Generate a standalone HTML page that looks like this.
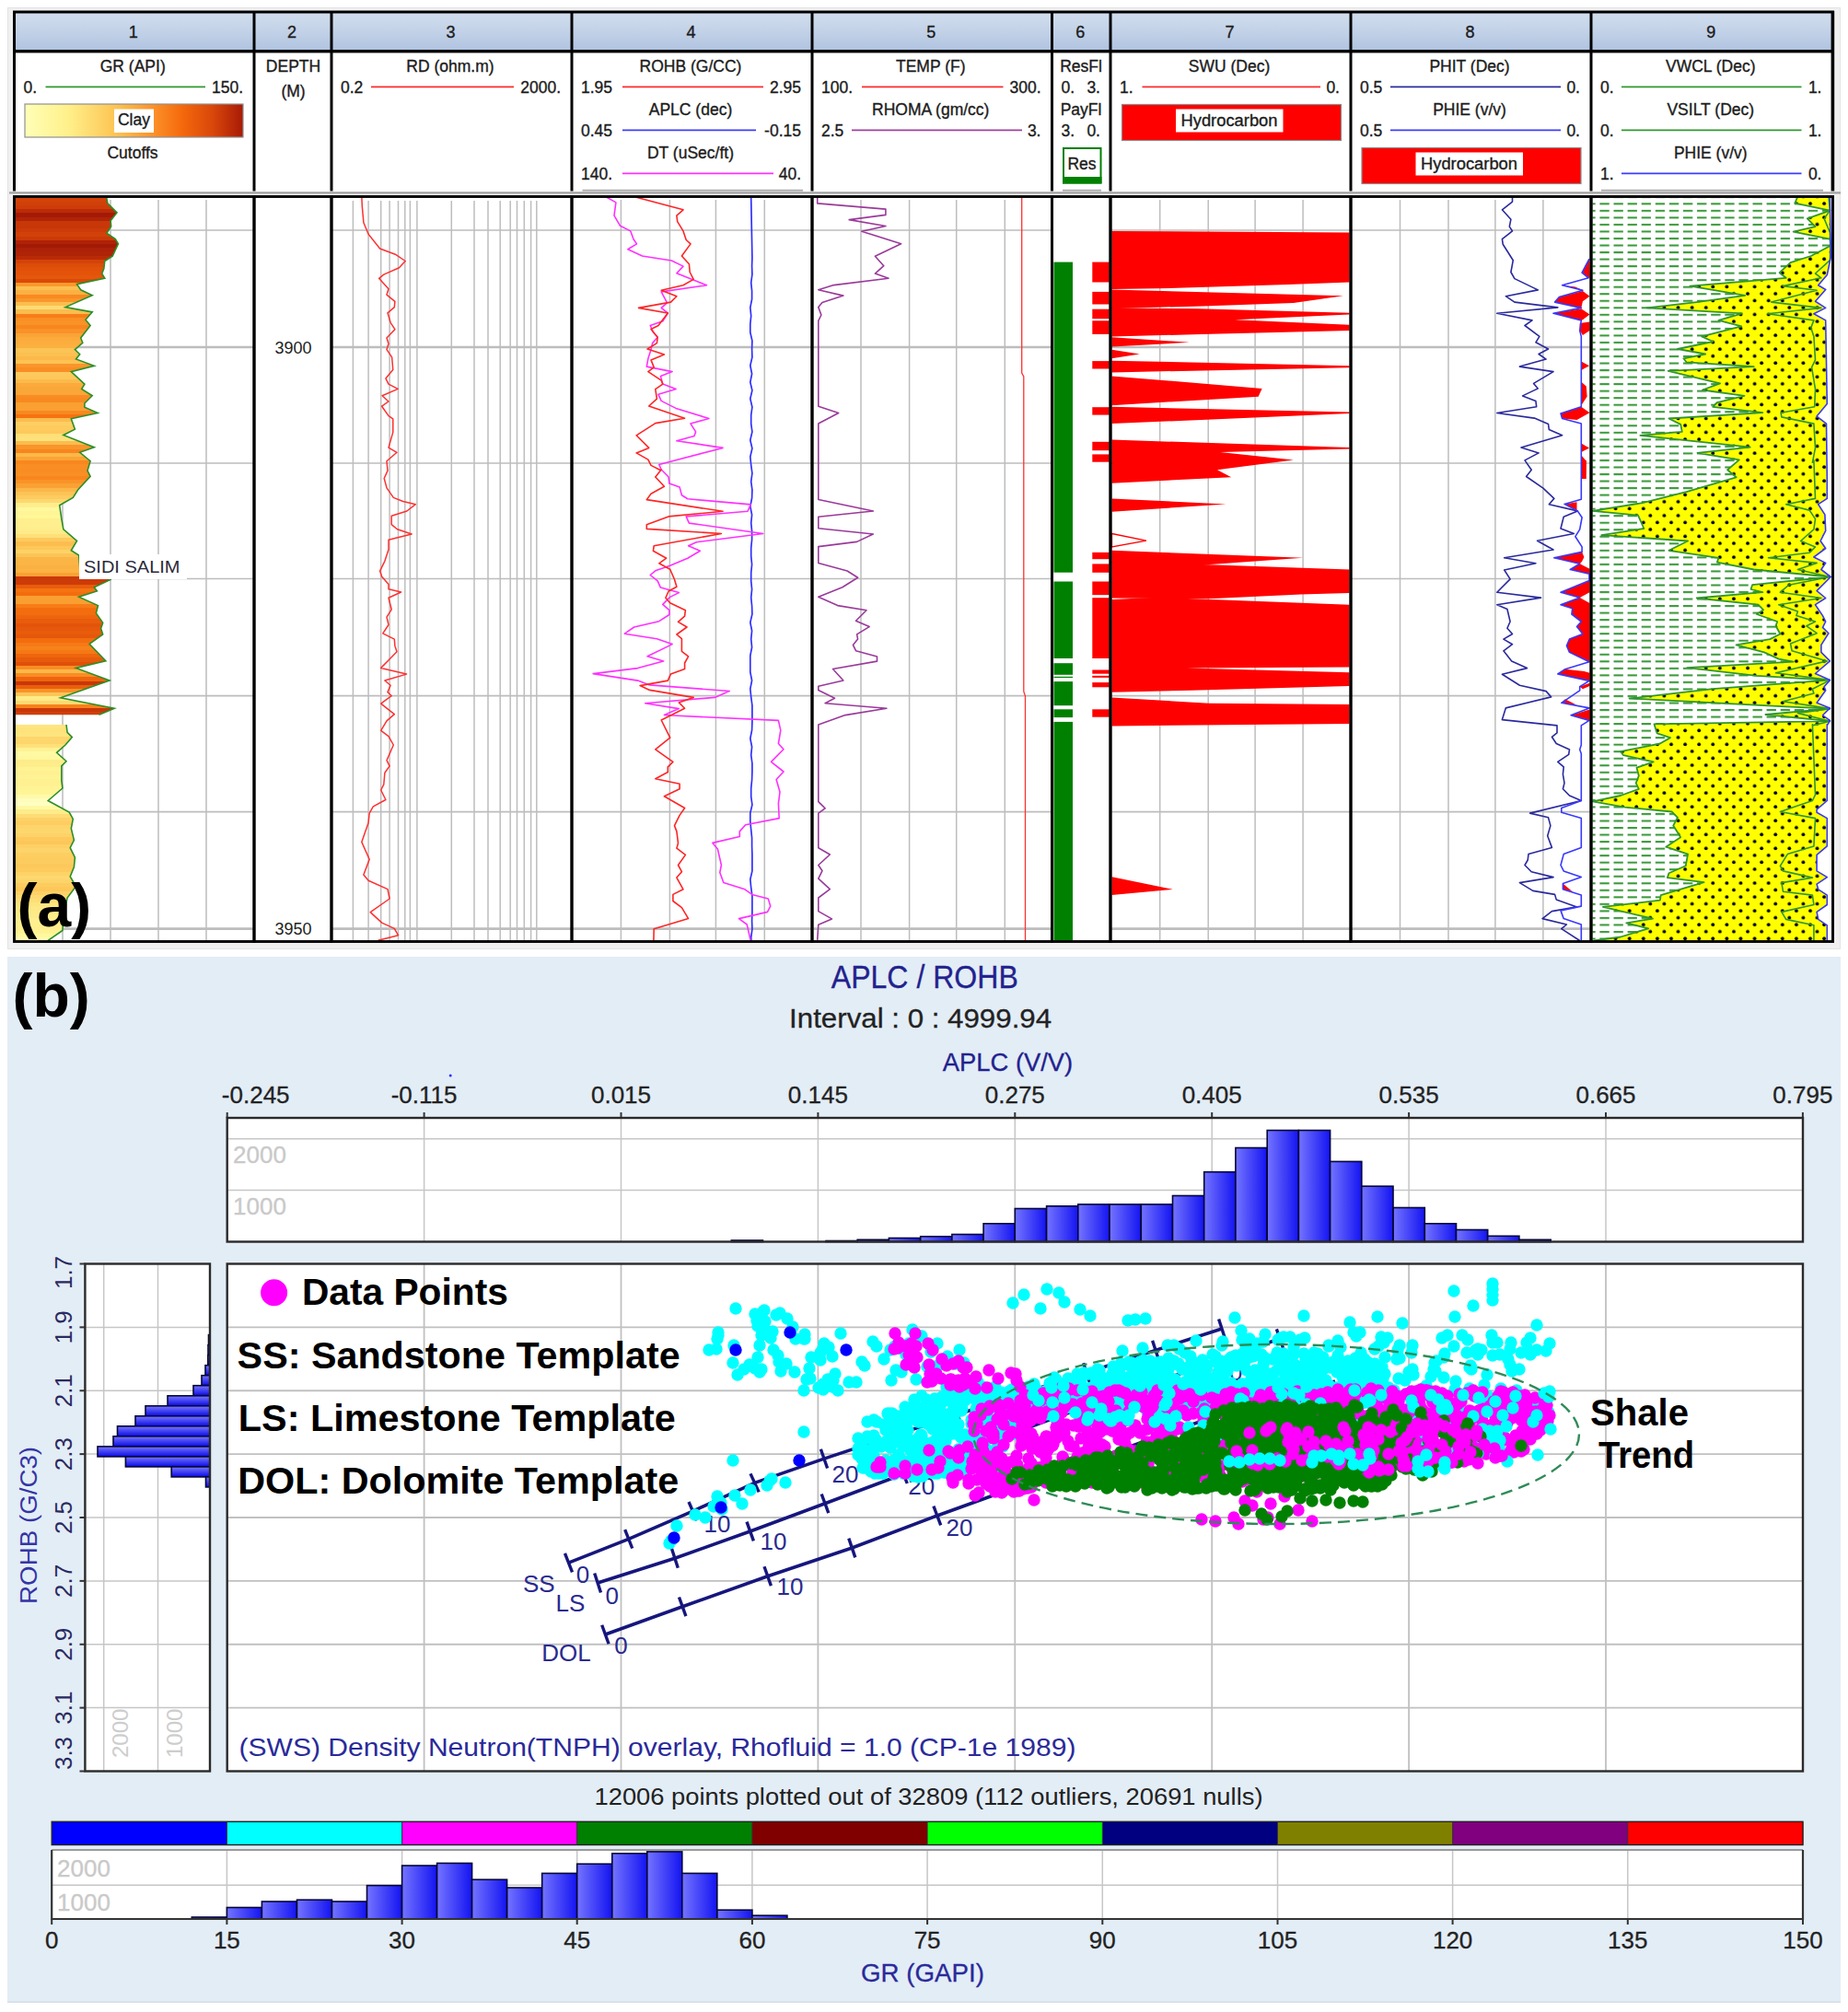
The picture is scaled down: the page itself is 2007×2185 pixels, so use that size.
<!DOCTYPE html><html><head><meta charset="utf-8"><title>Well log and crossplot</title><style>html,body{margin:0;padding:0;background:#fff}svg{display:block}</style></head><body><svg width="2007" height="2185" viewBox="0 0 2007 2185"><rect width="2007" height="2185" fill="#fff"/>
<rect x="8.5" y="8.5" width="1990" height="1022" fill="#f0f0f0" stroke="#e4e4e4"/>
<rect x="8" y="1039" width="1991" height="1135" fill="#e3edf6"/>
<rect x="8" y="2173.5" width="1991" height="1.5" fill="#d4dde6"/>
<defs><linearGradient id="hb" x1="0" y1="0" x2="0" y2="1"><stop offset="0" stop-color="#d2deee"/><stop offset="0.45" stop-color="#c4d3e8"/><stop offset="1" stop-color="#b0c3e0"/></linearGradient><linearGradient id="clay" x1="0" y1="0" x2="1" y2="0"><stop offset="0" stop-color="#ffffb8"/><stop offset="0.2" stop-color="#fff08a"/><stop offset="0.42" stop-color="#fdc352"/><stop offset="0.6" stop-color="#fb8e26"/><stop offset="0.72" stop-color="#f5690c"/><stop offset="0.86" stop-color="#d9470a"/><stop offset="1" stop-color="#a81a06"/></linearGradient><linearGradient id="bar" x1="0" y1="0" x2="1" y2="0"><stop offset="0" stop-color="#7474ff"/><stop offset="1" stop-color="#1414f2"/></linearGradient><linearGradient id="barv" x1="0" y1="0" x2="0" y2="1"><stop offset="0" stop-color="#7878ff"/><stop offset="1" stop-color="#0a0ae6"/></linearGradient><pattern id="dash" x="1737.4" y="212.8" width="15.1" height="7.53" patternUnits="userSpaceOnUse"><rect x="0" y="0" width="10.3" height="2.1" fill="#3a9a3a"/></pattern><pattern id="dots" x="1736.5" y="218" width="15.1" height="15.06" patternUnits="userSpaceOnUse"><rect width="15.1" height="15.06" fill="#ffff00"/><circle cx="3" cy="3" r="1.9" fill="#000"/><circle cx="10.55" cy="10.53" r="1.9" fill="#000"/></pattern></defs>
<rect x="14" y="12" width="1978" height="196" fill="#fff"/>
<rect x="14" y="13" width="1977" height="42" fill="url(#hb)"/>
<rect x="14" y="11.5" width="1978" height="3" fill="#000"/>
<rect x="14" y="54" width="1978" height="3.4" fill="#000"/>
<rect x="10" y="208.3" width="1989" height="2.2" fill="#a0a0a0"/>
<rect x="14" y="212" width="1978" height="812.0" fill="#fff"/>
<g font-family="'Liberation Sans',sans-serif">
<text x="144.75" y="41" font-size="18" fill="#1c1c1c" stroke="#1c1c1c" stroke-width="0.35" text-anchor="middle">1</text>
<text x="317" y="41" font-size="18" fill="#1c1c1c" stroke="#1c1c1c" stroke-width="0.35" text-anchor="middle">2</text>
<text x="489.5" y="41" font-size="18" fill="#1c1c1c" stroke="#1c1c1c" stroke-width="0.35" text-anchor="middle">3</text>
<text x="750.5" y="41" font-size="18" fill="#1c1c1c" stroke="#1c1c1c" stroke-width="0.35" text-anchor="middle">4</text>
<text x="1011.25" y="41" font-size="18" fill="#1c1c1c" stroke="#1c1c1c" stroke-width="0.35" text-anchor="middle">5</text>
<text x="1173.25" y="41" font-size="18" fill="#1c1c1c" stroke="#1c1c1c" stroke-width="0.35" text-anchor="middle">6</text>
<text x="1335.5" y="41" font-size="18" fill="#1c1c1c" stroke="#1c1c1c" stroke-width="0.35" text-anchor="middle">7</text>
<text x="1596.5" y="41" font-size="18" fill="#1c1c1c" stroke="#1c1c1c" stroke-width="0.35" text-anchor="middle">8</text>
<text x="1858.25" y="41" font-size="18" fill="#1c1c1c" stroke="#1c1c1c" stroke-width="0.35" text-anchor="middle">9</text>
<text x="144.25" y="78" font-size="17.5" fill="#1c1c1c" stroke="#1c1c1c" stroke-width="0.35" text-anchor="middle">GR (API)</text>
<text x="25.5" y="100.7" font-size="17.5" fill="#1c1c1c" stroke="#1c1c1c" stroke-width="0.35">0.</text>
<text x="264" y="100.7" font-size="17.5" fill="#1c1c1c" stroke="#1c1c1c" stroke-width="0.35" text-anchor="end">150.</text>
<line x1="49.5" y1="94.4" x2="223" y2="94.4" stroke="#2f9a2f" stroke-width="1.7"/>
<text x="489" y="78" font-size="17.5" fill="#1c1c1c" stroke="#1c1c1c" stroke-width="0.35" text-anchor="middle">RD (ohm.m)</text>
<text x="370" y="100.7" font-size="17.5" fill="#1c1c1c" stroke="#1c1c1c" stroke-width="0.35">0.2</text>
<text x="609" y="100.7" font-size="17.5" fill="#1c1c1c" stroke="#1c1c1c" stroke-width="0.35" text-anchor="end">2000.</text>
<line x1="403" y1="94.4" x2="558" y2="94.4" stroke="#ff2a2a" stroke-width="1.7"/>
<text x="750" y="78" font-size="17.5" fill="#1c1c1c" stroke="#1c1c1c" stroke-width="0.35" text-anchor="middle">ROHB (G/CC)</text>
<text x="631" y="100.7" font-size="17.5" fill="#1c1c1c" stroke="#1c1c1c" stroke-width="0.35">1.95</text>
<text x="870" y="100.7" font-size="17.5" fill="#1c1c1c" stroke="#1c1c1c" stroke-width="0.35" text-anchor="end">2.95</text>
<line x1="676" y1="94.4" x2="829" y2="94.4" stroke="#ff2a2a" stroke-width="1.7"/>
<text x="750" y="125" font-size="17.5" fill="#1c1c1c" stroke="#1c1c1c" stroke-width="0.35" text-anchor="middle">APLC (dec)</text>
<text x="631" y="147.7" font-size="17.5" fill="#1c1c1c" stroke="#1c1c1c" stroke-width="0.35">0.45</text>
<text x="870" y="147.7" font-size="17.5" fill="#1c1c1c" stroke="#1c1c1c" stroke-width="0.35" text-anchor="end">-0.15</text>
<line x1="676" y1="141.4" x2="821" y2="141.4" stroke="#3c3cff" stroke-width="1.7"/>
<text x="750" y="172" font-size="17.5" fill="#1c1c1c" stroke="#1c1c1c" stroke-width="0.35" text-anchor="middle">DT (uSec/ft)</text>
<text x="631" y="194.7" font-size="17.5" fill="#1c1c1c" stroke="#1c1c1c" stroke-width="0.35">140.</text>
<text x="870" y="194.7" font-size="17.5" fill="#1c1c1c" stroke="#1c1c1c" stroke-width="0.35" text-anchor="end">40.</text>
<line x1="676" y1="188.4" x2="840" y2="188.4" stroke="#ff30ff" stroke-width="1.7"/>
<text x="1010.75" y="78" font-size="17.5" fill="#1c1c1c" stroke="#1c1c1c" stroke-width="0.35" text-anchor="middle">TEMP (F)</text>
<text x="892" y="100.7" font-size="17.5" fill="#1c1c1c" stroke="#1c1c1c" stroke-width="0.35">100.</text>
<text x="1130.5" y="100.7" font-size="17.5" fill="#1c1c1c" stroke="#1c1c1c" stroke-width="0.35" text-anchor="end">300.</text>
<line x1="936" y1="94.4" x2="1089.5" y2="94.4" stroke="#ff2a2a" stroke-width="1.7"/>
<text x="1010.75" y="125" font-size="17.5" fill="#1c1c1c" stroke="#1c1c1c" stroke-width="0.35" text-anchor="middle">RHOMA (gm/cc)</text>
<text x="892" y="147.7" font-size="17.5" fill="#1c1c1c" stroke="#1c1c1c" stroke-width="0.35">2.5</text>
<text x="1130.5" y="147.7" font-size="17.5" fill="#1c1c1c" stroke="#1c1c1c" stroke-width="0.35" text-anchor="end">3.</text>
<line x1="925" y1="141.4" x2="1110" y2="141.4" stroke="#a040a0" stroke-width="1.7"/>
<text x="1335" y="78" font-size="17.5" fill="#1c1c1c" stroke="#1c1c1c" stroke-width="0.35" text-anchor="middle">SWU (Dec)</text>
<text x="1216" y="100.7" font-size="17.5" fill="#1c1c1c" stroke="#1c1c1c" stroke-width="0.35">1.</text>
<text x="1455" y="100.7" font-size="17.5" fill="#1c1c1c" stroke="#1c1c1c" stroke-width="0.35" text-anchor="end">0.</text>
<line x1="1240.5" y1="94.4" x2="1434" y2="94.4" stroke="#ff2a2a" stroke-width="1.7"/>
<text x="1596" y="78" font-size="17.5" fill="#1c1c1c" stroke="#1c1c1c" stroke-width="0.35" text-anchor="middle">PHIT (Dec)</text>
<text x="1477" y="100.7" font-size="17.5" fill="#1c1c1c" stroke="#1c1c1c" stroke-width="0.35">0.5</text>
<text x="1716" y="100.7" font-size="17.5" fill="#1c1c1c" stroke="#1c1c1c" stroke-width="0.35" text-anchor="end">0.</text>
<line x1="1510" y1="94.4" x2="1695" y2="94.4" stroke="#2c2c9c" stroke-width="1.7"/>
<text x="1596" y="125" font-size="17.5" fill="#1c1c1c" stroke="#1c1c1c" stroke-width="0.35" text-anchor="middle">PHIE (v/v)</text>
<text x="1477" y="147.7" font-size="17.5" fill="#1c1c1c" stroke="#1c1c1c" stroke-width="0.35">0.5</text>
<text x="1716" y="147.7" font-size="17.5" fill="#1c1c1c" stroke="#1c1c1c" stroke-width="0.35" text-anchor="end">0.</text>
<line x1="1510" y1="141.4" x2="1695" y2="141.4" stroke="#3c3cff" stroke-width="1.7"/>
<text x="1857.75" y="78" font-size="17.5" fill="#1c1c1c" stroke="#1c1c1c" stroke-width="0.35" text-anchor="middle">VWCL (Dec)</text>
<text x="1738" y="100.7" font-size="17.5" fill="#1c1c1c" stroke="#1c1c1c" stroke-width="0.35">0.</text>
<text x="1978.5" y="100.7" font-size="17.5" fill="#1c1c1c" stroke="#1c1c1c" stroke-width="0.35" text-anchor="end">1.</text>
<line x1="1761" y1="94.4" x2="1956.5" y2="94.4" stroke="#2f9a2f" stroke-width="1.7"/>
<text x="1857.75" y="125" font-size="17.5" fill="#1c1c1c" stroke="#1c1c1c" stroke-width="0.35" text-anchor="middle">VSILT (Dec)</text>
<text x="1738" y="147.7" font-size="17.5" fill="#1c1c1c" stroke="#1c1c1c" stroke-width="0.35">0.</text>
<text x="1978.5" y="147.7" font-size="17.5" fill="#1c1c1c" stroke="#1c1c1c" stroke-width="0.35" text-anchor="end">1.</text>
<line x1="1761" y1="141.4" x2="1956.5" y2="141.4" stroke="#2f9a2f" stroke-width="1.7"/>
<text x="1857.75" y="172" font-size="17.5" fill="#1c1c1c" stroke="#1c1c1c" stroke-width="0.35" text-anchor="middle">PHIE (v/v)</text>
<text x="1738" y="194.7" font-size="17.5" fill="#1c1c1c" stroke="#1c1c1c" stroke-width="0.35">1.</text>
<text x="1978.5" y="194.7" font-size="17.5" fill="#1c1c1c" stroke="#1c1c1c" stroke-width="0.35" text-anchor="end">0.</text>
<line x1="1761" y1="188.4" x2="1956.5" y2="188.4" stroke="#3c3cff" stroke-width="1.7"/>
<text x="318.5" y="78" font-size="17.5" fill="#1c1c1c" stroke="#1c1c1c" stroke-width="0.35" text-anchor="middle">DEPTH</text>
<text x="318.5" y="105" font-size="17.5" fill="#1c1c1c" stroke="#1c1c1c" stroke-width="0.35" text-anchor="middle">(M)</text>
<rect x="27" y="113" width="237" height="36" fill="url(#clay)" stroke="#909090" stroke-width="1.2"/>
<rect x="124" y="118.5" width="43" height="25.5" fill="#fff"/>
<text x="145.5" y="136.3" font-size="17.5" fill="#1c1c1c" stroke="#1c1c1c" stroke-width="0.35" text-anchor="middle">Clay</text>
<text x="144" y="172" font-size="17.5" fill="#1c1c1c" stroke="#1c1c1c" stroke-width="0.35" text-anchor="middle">Cutoffs</text>
<text x="1174" y="78" font-size="17.5" fill="#1c1c1c" stroke="#1c1c1c" stroke-width="0.35" text-anchor="middle">ResFl</text>
<text x="1152.5" y="100.7" font-size="17.5" fill="#1c1c1c" stroke="#1c1c1c" stroke-width="0.35">0.</text>
<text x="1195" y="100.7" font-size="17.5" fill="#1c1c1c" stroke="#1c1c1c" stroke-width="0.35" text-anchor="end">3.</text>
<text x="1174" y="125" font-size="17.5" fill="#1c1c1c" stroke="#1c1c1c" stroke-width="0.35" text-anchor="middle">PayFl</text>
<text x="1152.5" y="147.7" font-size="17.5" fill="#1c1c1c" stroke="#1c1c1c" stroke-width="0.35">3.</text>
<text x="1195" y="147.7" font-size="17.5" fill="#1c1c1c" stroke="#1c1c1c" stroke-width="0.35" text-anchor="end">0.</text>
<rect x="1155" y="161" width="40.5" height="37.5" fill="#fff" stroke="#008000" stroke-width="2"/>
<rect x="1154" y="192" width="42.5" height="7.5" fill="#008000"/>
<text x="1175" y="184" font-size="17.5" fill="#1c1c1c" stroke="#1c1c1c" stroke-width="0.35" text-anchor="middle">Res</text>
<rect x="1218.5" y="113.5" width="238" height="39" fill="#ff0000" stroke="#8a8a8a" stroke-width="1.2"/>
<rect x="1277" y="118.5" width="116.5" height="25" fill="#fff"/>
<text x="1335" y="136.5" font-size="17.5" fill="#1c1c1c" stroke="#1c1c1c" stroke-width="0.35" text-anchor="middle" textLength="105" lengthAdjust="spacingAndGlyphs">Hydrocarbon</text>
<rect x="1479" y="160.5" width="238" height="39" fill="#ff0000" stroke="#8a8a8a" stroke-width="1.2"/>
<rect x="1537.5" y="165.5" width="116.5" height="25" fill="#fff"/>
<text x="1595.5" y="183.5" font-size="17.5" fill="#1c1c1c" stroke="#1c1c1c" stroke-width="0.35" text-anchor="middle" textLength="105" lengthAdjust="spacingAndGlyphs">Hydrocarbon</text>
<rect x="632.5" y="205.8" width="239.5" height="1.8" fill="#a8a8a8"/>
<rect x="1154" y="205.8" width="42" height="1.8" fill="#a8a8a8"/>
<rect x="1739" y="205.8" width="241" height="1.8" fill="#a8a8a8"/>
</g>
<rect x="14" y="12" width="3" height="195.5" fill="#000"/>
<rect x="274.5" y="12" width="3" height="195.5" fill="#000"/>
<rect x="358.5" y="12" width="3" height="195.5" fill="#000"/>
<rect x="619.5" y="12" width="3" height="195.5" fill="#000"/>
<rect x="880.5" y="12" width="3" height="195.5" fill="#000"/>
<rect x="1141" y="12" width="3" height="195.5" fill="#000"/>
<rect x="1204.5" y="12" width="3" height="195.5" fill="#000"/>
<rect x="1465.5" y="12" width="3" height="195.5" fill="#000"/>
<rect x="1726.5" y="12" width="3" height="195.5" fill="#000"/>
<rect x="1988.6" y="12" width="3.6" height="195.5" fill="#000"/>
<line x1="68" y1="217" x2="68" y2="1022.5" stroke="#bdbdbd" stroke-width="1.5"/>
<line x1="120" y1="217" x2="120" y2="1022.5" stroke="#bdbdbd" stroke-width="1.5"/>
<line x1="172" y1="217" x2="172" y2="1022.5" stroke="#bdbdbd" stroke-width="1.5"/>
<line x1="224" y1="217" x2="224" y2="1022.5" stroke="#bdbdbd" stroke-width="1.5"/>
<line x1="15.5" y1="250" x2="276" y2="250" stroke="#bdbdbd" stroke-width="1.7"/>
<line x1="15.5" y1="377" x2="276" y2="377" stroke="#bdbdbd" stroke-width="2.6"/>
<line x1="15.5" y1="503" x2="276" y2="503" stroke="#bdbdbd" stroke-width="1.7"/>
<line x1="15.5" y1="628.5" x2="276" y2="628.5" stroke="#bdbdbd" stroke-width="1.7"/>
<line x1="15.5" y1="755.7" x2="276" y2="755.7" stroke="#bdbdbd" stroke-width="1.7"/>
<line x1="15.5" y1="881.6" x2="276" y2="881.6" stroke="#bdbdbd" stroke-width="1.7"/>
<line x1="15.5" y1="1008.6" x2="276" y2="1008.6" stroke="#bdbdbd" stroke-width="2.6"/>
<clipPath id="c1"><polygon points="17,214.5 115.9,214.5 115.9,215.7 116.9,220.9 127,230.9 120.1,239.7 120.7,245.9 115.9,253.2 125.3,259.5 128.4,264.7 122.2,278.3 113.8,283.5 112.8,291.9 110.7,297.1 113.8,302.3 83.5,308.6 87.7,314.8 100.2,320.7 71,333.6 100.2,338.9 92.9,347.2 98.1,353.5 87.7,367 89.8,372.3 81.4,379.6 86.7,384.8 82.5,390 102.3,397.3 77.3,403.6 91.9,417.2 88.7,422.4 100.2,429.7 91.9,438 91.9,442.2 106.1,448.5 77.3,454.8 81.4,466.2 68.9,472.5 102.3,485.7 86.7,491.3 98.1,500.7 95,511.1 98.1,517.4 84.6,532 79.3,540.4 64.7,548.7 66.8,563.3 68.9,574.8 83.5,587.3 77.3,597.8 85.6,603 86.7,615.5 87.1,621 118,623.5 120.1,629.4 102.3,637.7 105.4,641.9 85.6,648.2 106.5,657.6 104.4,665.9 111.7,676.4 109.6,682.6 111.7,688.9 97.1,699.3 114.8,717.7 82.5,725.4 119,739 65.8,757.8 124.2,769.3 107.5,776.2 17,776.2"/></clipPath>
<g clip-path="url(#c1)" shape-rendering="crispEdges">
<rect x="16" y="214.5" width="125" height="4.5" fill="#d44309"/>
<rect x="16" y="218.7" width="125" height="4.5" fill="#d04009"/>
<rect x="16" y="222.9" width="125" height="4.5" fill="#ce3d09"/>
<rect x="16" y="227.1" width="125" height="4.5" fill="#ba2c07"/>
<rect x="16" y="231.3" width="125" height="4.5" fill="#a31a06"/>
<rect x="16" y="235.5" width="125" height="4.5" fill="#b02407"/>
<rect x="16" y="239.7" width="125" height="4.5" fill="#c83708"/>
<rect x="16" y="243.9" width="125" height="4.5" fill="#c73708"/>
<rect x="16" y="248.1" width="125" height="4.5" fill="#cc3b08"/>
<rect x="16" y="252.3" width="125" height="4.5" fill="#d24109"/>
<rect x="16" y="256.5" width="125" height="4.5" fill="#cb3a08"/>
<rect x="16" y="260.7" width="125" height="4.5" fill="#ae2207"/>
<rect x="16" y="264.9" width="125" height="4.5" fill="#a21a06"/>
<rect x="16" y="269.1" width="125" height="4.5" fill="#ac2107"/>
<rect x="16" y="273.3" width="125" height="4.5" fill="#af2307"/>
<rect x="16" y="277.5" width="125" height="4.5" fill="#b92b07"/>
<rect x="16" y="281.7" width="125" height="4.5" fill="#d44309"/>
<rect x="16" y="285.9" width="125" height="4.5" fill="#dc4c0a"/>
<rect x="16" y="290.1" width="125" height="4.5" fill="#e1510a"/>
<rect x="16" y="294.3" width="125" height="4.5" fill="#e3530a"/>
<rect x="16" y="298.5" width="125" height="4.5" fill="#e5570b"/>
<rect x="16" y="302.7" width="125" height="4.5" fill="#da4a09"/>
<rect x="16" y="306.9" width="125" height="4.5" fill="#fa982c"/>
<rect x="16" y="311.1" width="125" height="4.5" fill="#fcbf51"/>
<rect x="16" y="315.3" width="125" height="4.5" fill="#fbb141"/>
<rect x="16" y="319.5" width="125" height="4.5" fill="#f88921"/>
<rect x="16" y="323.7" width="125" height="4.5" fill="#fa972c"/>
<rect x="16" y="327.9" width="125" height="4.5" fill="#fcbd4f"/>
<rect x="16" y="332.1" width="125" height="4.5" fill="#fedb73"/>
<rect x="16" y="336.3" width="125" height="4.5" fill="#fcbc4e"/>
<rect x="16" y="340.5" width="125" height="4.5" fill="#f77d18"/>
<rect x="16" y="344.7" width="125" height="4.5" fill="#f98f25"/>
<rect x="16" y="348.9" width="125" height="4.5" fill="#f99328"/>
<rect x="16" y="353.1" width="125" height="4.5" fill="#f8861e"/>
<rect x="16" y="357.3" width="125" height="4.5" fill="#f99228"/>
<rect x="16" y="361.5" width="125" height="4.5" fill="#faa336"/>
<rect x="16" y="365.7" width="125" height="4.5" fill="#fbaa3b"/>
<rect x="16" y="369.9" width="125" height="4.5" fill="#fbad3d"/>
<rect x="16" y="374.1" width="125" height="4.5" fill="#fbb040"/>
<rect x="16" y="378.3" width="125" height="4.5" fill="#fcc355"/>
<rect x="16" y="382.5" width="125" height="4.5" fill="#fcc052"/>
<rect x="16" y="386.7" width="125" height="4.5" fill="#fcb94a"/>
<rect x="16" y="390.9" width="125" height="4.5" fill="#fcc254"/>
<rect x="16" y="395.1" width="125" height="4.5" fill="#f9962b"/>
<rect x="16" y="399.3" width="125" height="4.5" fill="#f98e24"/>
<rect x="16" y="403.5" width="125" height="4.5" fill="#fdc95d"/>
<rect x="16" y="407.7" width="125" height="4.5" fill="#fdc75a"/>
<rect x="16" y="411.9" width="125" height="4.5" fill="#fcba4c"/>
<rect x="16" y="416.1" width="125" height="4.5" fill="#fbaa3b"/>
<rect x="16" y="420.3" width="125" height="4.5" fill="#faa739"/>
<rect x="16" y="424.5" width="125" height="4.5" fill="#faa638"/>
<rect x="16" y="428.7" width="125" height="4.5" fill="#f98b22"/>
<rect x="16" y="432.9" width="125" height="4.5" fill="#f88921"/>
<rect x="16" y="437.1" width="125" height="4.5" fill="#fa9f32"/>
<rect x="16" y="441.3" width="125" height="4.5" fill="#faa033"/>
<rect x="16" y="445.5" width="125" height="4.5" fill="#f88820"/>
<rect x="16" y="449.7" width="125" height="4.5" fill="#f57210"/>
<rect x="16" y="453.9" width="125" height="4.5" fill="#fcbc4e"/>
<rect x="16" y="458.1" width="125" height="4.5" fill="#fdcf64"/>
<rect x="16" y="462.3" width="125" height="4.5" fill="#fdcb5e"/>
<rect x="16" y="466.5" width="125" height="4.5" fill="#fdc95c"/>
<rect x="16" y="470.7" width="125" height="4.5" fill="#fedf78"/>
<rect x="16" y="474.9" width="125" height="4.5" fill="#fee17b"/>
<rect x="16" y="479.1" width="125" height="4.5" fill="#fcbc4e"/>
<rect x="16" y="483.3" width="125" height="4.5" fill="#f9952a"/>
<rect x="16" y="487.5" width="125" height="4.5" fill="#f8851e"/>
<rect x="16" y="491.7" width="125" height="4.5" fill="#fcb849"/>
<rect x="16" y="495.9" width="125" height="4.5" fill="#faa436"/>
<rect x="16" y="500.1" width="125" height="4.5" fill="#f8871f"/>
<rect x="16" y="504.3" width="125" height="4.5" fill="#f98e24"/>
<rect x="16" y="508.5" width="125" height="4.5" fill="#f98d24"/>
<rect x="16" y="512.7" width="125" height="4.5" fill="#f98f25"/>
<rect x="16" y="516.9" width="125" height="4.5" fill="#f8861f"/>
<rect x="16" y="521.1" width="125" height="4.5" fill="#f99328"/>
<rect x="16" y="525.3" width="125" height="4.5" fill="#faa134"/>
<rect x="16" y="529.5" width="125" height="4.5" fill="#fbb748"/>
<rect x="16" y="533.7" width="125" height="4.5" fill="#fcc356"/>
<rect x="16" y="537.9" width="125" height="4.5" fill="#fdcb5f"/>
<rect x="16" y="542.1" width="125" height="4.5" fill="#fdd86f"/>
<rect x="16" y="546.3" width="125" height="4.5" fill="#feee8c"/>
<rect x="16" y="550.5" width="125" height="4.5" fill="#fff89d"/>
<rect x="16" y="554.7" width="125" height="4.5" fill="#fff597"/>
<rect x="16" y="558.9" width="125" height="4.5" fill="#fff798"/>
<rect x="16" y="563.1" width="125" height="4.5" fill="#ffef8e"/>
<rect x="16" y="567.3" width="125" height="4.5" fill="#ffef8e"/>
<rect x="16" y="571.5" width="125" height="4.5" fill="#ffee8d"/>
<rect x="16" y="575.7" width="125" height="4.5" fill="#feea87"/>
<rect x="16" y="579.9" width="125" height="4.5" fill="#fee07a"/>
<rect x="16" y="584.1" width="125" height="4.5" fill="#fdca5e"/>
<rect x="16" y="588.3" width="125" height="4.5" fill="#fcbd4f"/>
<rect x="16" y="592.5" width="125" height="4.5" fill="#fdc75a"/>
<rect x="16" y="596.7" width="125" height="4.5" fill="#fdd267"/>
<rect x="16" y="600.9" width="125" height="4.5" fill="#fcc356"/>
<rect x="16" y="605.1" width="125" height="4.5" fill="#fbb546"/>
<rect x="16" y="609.3" width="125" height="4.5" fill="#fbb546"/>
<rect x="16" y="613.5" width="125" height="4.5" fill="#fbb141"/>
<rect x="16" y="617.7" width="125" height="4.5" fill="#fbb343"/>
<rect x="16" y="621.9" width="125" height="4.5" fill="#faa134"/>
<rect x="16" y="626.1" width="125" height="4.5" fill="#ca3908"/>
<rect x="16" y="630.3" width="125" height="4.5" fill="#cc3b08"/>
<rect x="16" y="634.5" width="125" height="4.5" fill="#e85c0c"/>
<rect x="16" y="638.7" width="125" height="4.5" fill="#f57311"/>
<rect x="16" y="642.9" width="125" height="4.5" fill="#f36d0f"/>
<rect x="16" y="647.1" width="125" height="4.5" fill="#fa9f32"/>
<rect x="16" y="651.3" width="125" height="4.5" fill="#fa9e31"/>
<rect x="16" y="655.5" width="125" height="4.5" fill="#f77c18"/>
<rect x="16" y="659.7" width="125" height="4.5" fill="#f36d0e"/>
<rect x="16" y="663.9" width="125" height="4.5" fill="#f36c0e"/>
<rect x="16" y="668.1" width="125" height="4.5" fill="#ee650d"/>
<rect x="16" y="672.3" width="125" height="4.5" fill="#e85c0c"/>
<rect x="16" y="676.5" width="125" height="4.5" fill="#e3540a"/>
<rect x="16" y="680.7" width="125" height="4.5" fill="#e6580b"/>
<rect x="16" y="684.9" width="125" height="4.5" fill="#e85c0c"/>
<rect x="16" y="689.1" width="125" height="4.5" fill="#e5570b"/>
<rect x="16" y="693.3" width="125" height="4.5" fill="#f36c0e"/>
<rect x="16" y="697.5" width="125" height="4.5" fill="#f67a16"/>
<rect x="16" y="701.7" width="125" height="4.5" fill="#f7821c"/>
<rect x="16" y="705.9" width="125" height="4.5" fill="#f67815"/>
<rect x="16" y="710.1" width="125" height="4.5" fill="#ee660d"/>
<rect x="16" y="714.3" width="125" height="4.5" fill="#e75b0b"/>
<rect x="16" y="718.5" width="125" height="4.5" fill="#e0500a"/>
<rect x="16" y="722.7" width="125" height="4.5" fill="#f98d23"/>
<rect x="16" y="726.9" width="125" height="4.5" fill="#fcb849"/>
<rect x="16" y="731.1" width="125" height="4.5" fill="#f98d24"/>
<rect x="16" y="735.3" width="125" height="4.5" fill="#ee650d"/>
<rect x="16" y="739.5" width="125" height="4.5" fill="#c83708"/>
<rect x="16" y="743.7" width="125" height="4.5" fill="#ea5f0c"/>
<rect x="16" y="747.9" width="125" height="4.5" fill="#f99328"/>
<rect x="16" y="752.1" width="125" height="4.5" fill="#fcc558"/>
<rect x="16" y="756.3" width="125" height="4.5" fill="#feea87"/>
<rect x="16" y="760.5" width="125" height="4.5" fill="#fed971"/>
<rect x="16" y="764.7" width="125" height="4.5" fill="#f7811b"/>
<rect x="16" y="768.9" width="125" height="4.5" fill="#c73608"/>
<rect x="16" y="773.1" width="125" height="4.5" fill="#d03f09"/>
</g>
<clipPath id="c2"><polygon points="17,787 72,787 73.1,795.4 78.3,800.6 71,809 61.6,817.3 72,826.7 66.8,831.9 66.8,847.6 67.9,856 52.2,869.5 75.2,882.1 79.3,889.4 77.3,899.8 80.4,912.3 76.2,920.7 81.4,931.1 80.4,941.6 76.2,952 82.5,962.5 73.1,975 68.9,995.9 67.9,1010.5 52,1021.5 17,1021.5"/></clipPath>
<g clip-path="url(#c2)" shape-rendering="crispEdges">
<rect x="16" y="787.0" width="125" height="4.5" fill="#fee57f"/>
<rect x="16" y="791.2" width="125" height="4.5" fill="#fee27c"/>
<rect x="16" y="795.4" width="125" height="4.5" fill="#fee47e"/>
<rect x="16" y="799.6" width="125" height="4.5" fill="#fdd66d"/>
<rect x="16" y="803.8" width="125" height="4.5" fill="#fdd56b"/>
<rect x="16" y="808.0" width="125" height="4.5" fill="#fee07a"/>
<rect x="16" y="812.2" width="125" height="4.5" fill="#fff293"/>
<rect x="16" y="816.4" width="125" height="4.5" fill="#fff9a3"/>
<rect x="16" y="820.6" width="125" height="4.5" fill="#fff89f"/>
<rect x="16" y="824.8" width="125" height="4.5" fill="#feec8a"/>
<rect x="16" y="829.0" width="125" height="4.5" fill="#feed8b"/>
<rect x="16" y="833.2" width="125" height="4.5" fill="#fff393"/>
<rect x="16" y="837.4" width="125" height="4.5" fill="#fff191"/>
<rect x="16" y="841.6" width="125" height="4.5" fill="#fff495"/>
<rect x="16" y="845.8" width="125" height="4.5" fill="#fff191"/>
<rect x="16" y="850.0" width="125" height="4.5" fill="#fff191"/>
<rect x="16" y="854.2" width="125" height="4.5" fill="#fff495"/>
<rect x="16" y="858.4" width="125" height="4.5" fill="#fff596"/>
<rect x="16" y="862.6" width="125" height="4.5" fill="#fffaab"/>
<rect x="16" y="866.8" width="125" height="4.5" fill="#fffdbb"/>
<rect x="16" y="871.0" width="125" height="4.5" fill="#fffec3"/>
<rect x="16" y="875.2" width="125" height="4.5" fill="#fff9a3"/>
<rect x="16" y="879.4" width="125" height="4.5" fill="#feec8a"/>
<rect x="16" y="883.6" width="125" height="4.5" fill="#fedc75"/>
<rect x="16" y="887.8" width="125" height="4.5" fill="#fdd167"/>
<rect x="16" y="892.0" width="125" height="4.5" fill="#fdcd61"/>
<rect x="16" y="896.2" width="125" height="4.5" fill="#fdd46a"/>
<rect x="16" y="900.4" width="125" height="4.5" fill="#fdd76e"/>
<rect x="16" y="904.6" width="125" height="4.5" fill="#fdd268"/>
<rect x="16" y="908.8" width="125" height="4.5" fill="#fdc95d"/>
<rect x="16" y="913.0" width="125" height="4.5" fill="#fdc659"/>
<rect x="16" y="917.2" width="125" height="4.5" fill="#fdd065"/>
<rect x="16" y="921.4" width="125" height="4.5" fill="#fdd46a"/>
<rect x="16" y="925.6" width="125" height="4.5" fill="#fdce62"/>
<rect x="16" y="929.8" width="125" height="4.5" fill="#fdcc5f"/>
<rect x="16" y="934.0" width="125" height="4.5" fill="#fdcc60"/>
<rect x="16" y="938.2" width="125" height="4.5" fill="#fdc85b"/>
<rect x="16" y="942.4" width="125" height="4.5" fill="#fdca5e"/>
<rect x="16" y="946.6" width="125" height="4.5" fill="#fdd267"/>
<rect x="16" y="950.8" width="125" height="4.5" fill="#fdd870"/>
<rect x="16" y="955.0" width="125" height="4.5" fill="#fdd46a"/>
<rect x="16" y="959.2" width="125" height="4.5" fill="#fdcc5f"/>
<rect x="16" y="963.4" width="125" height="4.5" fill="#fdc75a"/>
<rect x="16" y="967.6" width="125" height="4.5" fill="#fdd166"/>
<rect x="16" y="971.8" width="125" height="4.5" fill="#fed971"/>
<rect x="16" y="976.0" width="125" height="4.5" fill="#fede78"/>
<rect x="16" y="980.2" width="125" height="4.5" fill="#fee47e"/>
<rect x="16" y="984.4" width="125" height="4.5" fill="#fee885"/>
<rect x="16" y="988.6" width="125" height="4.5" fill="#feeb88"/>
<rect x="16" y="992.8" width="125" height="4.5" fill="#feeb89"/>
<rect x="16" y="997.0" width="125" height="4.5" fill="#ffef8e"/>
<rect x="16" y="1001.2" width="125" height="4.5" fill="#fff08f"/>
<rect x="16" y="1005.4" width="125" height="4.5" fill="#ffee8d"/>
<rect x="16" y="1009.6" width="125" height="4.5" fill="#fff293"/>
<rect x="16" y="1013.8" width="125" height="4.5" fill="#fff89d"/>
<rect x="16" y="1018.0" width="125" height="4.5" fill="#fffcb5"/>
</g>
<polyline points="115.9,214.5 115.9,215.7 116.9,220.9 127,230.9 120.1,239.7 120.7,245.9 115.9,253.2 125.3,259.5 128.4,264.7 122.2,278.3 113.8,283.5 112.8,291.9 110.7,297.1 113.8,302.3 83.5,308.6 87.7,314.8 100.2,320.7 71,333.6 100.2,338.9 92.9,347.2 98.1,353.5 87.7,367 89.8,372.3 81.4,379.6 86.7,384.8 82.5,390 102.3,397.3 77.3,403.6 91.9,417.2 88.7,422.4 100.2,429.7 91.9,438 91.9,442.2 106.1,448.5 77.3,454.8 81.4,466.2 68.9,472.5 102.3,485.7 86.7,491.3 98.1,500.7 95,511.1 98.1,517.4 84.6,532 79.3,540.4 64.7,548.7 66.8,563.3 68.9,574.8 83.5,587.3 77.3,597.8 85.6,603 86.7,615.5 87.1,621 118,623.5 120.1,629.4 102.3,637.7 105.4,641.9 85.6,648.2 106.5,657.6 104.4,665.9 111.7,676.4 109.6,682.6 111.7,688.9 97.1,699.3 114.8,717.7 82.5,725.4 119,739 65.8,757.8 124.2,769.3 107.5,776.2" fill="none" stroke="#2a8f2a" stroke-width="1.6"/>
<polyline points="72,787 73.1,795.4 78.3,800.6 71,809 61.6,817.3 72,826.7 66.8,831.9 66.8,847.6 67.9,856 52.2,869.5 75.2,882.1 79.3,889.4 77.3,899.8 80.4,912.3 76.2,920.7 81.4,931.1 80.4,941.6 76.2,952 82.5,962.5 73.1,975 68.9,995.9 67.9,1010.5 52,1021.5" fill="none" stroke="#2a8f2a" stroke-width="1.6"/>
<rect x="86" y="602" width="117" height="27" fill="#fff"/>
<text x="91" y="621.7" font-family="'Liberation Sans',sans-serif" font-size="18.5" fill="#2a2a3a" textLength="104.5" lengthAdjust="spacingAndGlyphs">SIDI SALIM</text>
<text x="18.5" y="1006" font-family="'Liberation Sans',sans-serif" font-size="66" font-weight="bold" fill="#000">(a)</text>
<text x="318.5" y="384" font-family="'Liberation Sans',sans-serif" font-size="18" fill="#222" text-anchor="middle">3900</text>
<text x="318.5" y="1015" font-family="'Liberation Sans',sans-serif" font-size="18" fill="#222" text-anchor="middle">3950</text>
<line x1="383.4" y1="218" x2="383.4" y2="1022.5" stroke="#bdbdbd" stroke-width="1.5"/>
<line x1="400.1" y1="218" x2="400.1" y2="1022.5" stroke="#bdbdbd" stroke-width="1.5"/>
<line x1="413.7" y1="218" x2="413.7" y2="1022.5" stroke="#bdbdbd" stroke-width="1.5"/>
<line x1="423.1" y1="218" x2="423.1" y2="1022.5" stroke="#bdbdbd" stroke-width="1.5"/>
<line x1="432.5" y1="218" x2="432.5" y2="1022.5" stroke="#bdbdbd" stroke-width="1.5"/>
<line x1="439.8" y1="218" x2="439.8" y2="1022.5" stroke="#bdbdbd" stroke-width="1.5"/>
<line x1="445.4" y1="218" x2="445.4" y2="1022.5" stroke="#bdbdbd" stroke-width="1.5"/>
<line x1="452.9" y1="218" x2="452.9" y2="1022.5" stroke="#bdbdbd" stroke-width="1.5"/>
<line x1="490.3" y1="218" x2="490.3" y2="1022.5" stroke="#bdbdbd" stroke-width="1.5"/>
<line x1="515" y1="218" x2="515" y2="1022.5" stroke="#bdbdbd" stroke-width="1.5"/>
<line x1="530" y1="218" x2="530" y2="1022.5" stroke="#bdbdbd" stroke-width="1.5"/>
<line x1="543.2" y1="218" x2="543.2" y2="1022.5" stroke="#bdbdbd" stroke-width="1.5"/>
<line x1="554.2" y1="218" x2="554.2" y2="1022.5" stroke="#bdbdbd" stroke-width="1.5"/>
<line x1="561.5" y1="218" x2="561.5" y2="1022.5" stroke="#bdbdbd" stroke-width="1.5"/>
<line x1="569.3" y1="218" x2="569.3" y2="1022.5" stroke="#bdbdbd" stroke-width="1.5"/>
<line x1="576.6" y1="218" x2="576.6" y2="1022.5" stroke="#bdbdbd" stroke-width="1.5"/>
<line x1="582.8" y1="218" x2="582.8" y2="1022.5" stroke="#bdbdbd" stroke-width="1.5"/>
<line x1="360" y1="250" x2="621" y2="250" stroke="#bdbdbd" stroke-width="1.7"/>
<line x1="360" y1="377" x2="621" y2="377" stroke="#bdbdbd" stroke-width="2.6"/>
<line x1="360" y1="503" x2="621" y2="503" stroke="#bdbdbd" stroke-width="1.7"/>
<line x1="360" y1="628.5" x2="621" y2="628.5" stroke="#bdbdbd" stroke-width="1.7"/>
<line x1="360" y1="755.7" x2="621" y2="755.7" stroke="#bdbdbd" stroke-width="1.7"/>
<line x1="360" y1="881.6" x2="621" y2="881.6" stroke="#bdbdbd" stroke-width="1.7"/>
<line x1="360" y1="1008.6" x2="621" y2="1008.6" stroke="#bdbdbd" stroke-width="2.6"/>
<polyline points="392.8,213.6 393.4,225.1 394.9,241.8 400.1,254.3 412.6,270 429.3,276.2 440.2,283.5 433.5,290.8 416.8,298.1 411.6,302.3 422,313.8 420,320.1 428.9,327.4 428.3,333.6 421,339.9 424.1,350.3 428.9,357.7 420,367 422,373.3 420,379.6 425.6,387.9 426.8,401.5 418.9,410.9 422,417.2 432.1,422.4 415.1,429.7 422,436 414.7,441.2 422,451.6 426.8,454.8 426.8,469.4 422,486.1 431,491.3 420,500.7 421,511.1 417.2,519.5 420,529.9 427.3,540.4 437.7,544.5 451.3,547.7 441.9,555 425.2,560.2 425.2,569.6 431.4,574.8 447.1,580 422,586.3 422,596.7 417.9,609.3 412.6,620.1 414.7,626.3 422,634.6 422,639.8 435.6,643 422,649.2 425.2,661.8 420,670.1 422,678.5 415.8,687.9 428.3,694.1 428.9,701.4 431,707.7 422,717.1 413.7,725.4 441.5,732.1 417.9,739 424.1,744.2 421,751.6 425.2,755.7 413.7,764.1 428.3,775.6 420,782.9 413.7,793.3 422,799.6 427.3,809 420,825.7 423.1,831.9 417.9,839.3 416.8,851.8 413.7,858 418.9,868.5 405.3,875.8 401.2,883.1 400.1,893.5 392.8,914.4 401.2,933.2 394.9,949.9 400.1,956.2 421,965.6 423.1,976 402.2,990.6 414.7,1002.1 428.3,1008.4 432.5,1015.7 410.6,1021.3" fill="none" stroke="#ff3030" stroke-width="1.5" stroke-linejoin="round"/>
<line x1="674.4" y1="217" x2="674.4" y2="1022.5" stroke="#bdbdbd" stroke-width="1.5"/>
<line x1="727.4" y1="217" x2="727.4" y2="1022.5" stroke="#bdbdbd" stroke-width="1.5"/>
<line x1="777.4" y1="217" x2="777.4" y2="1022.5" stroke="#bdbdbd" stroke-width="1.5"/>
<line x1="830.3" y1="217" x2="830.3" y2="1022.5" stroke="#bdbdbd" stroke-width="1.5"/>
<line x1="621" y1="250" x2="882" y2="250" stroke="#bdbdbd" stroke-width="1.7"/>
<line x1="621" y1="377" x2="882" y2="377" stroke="#bdbdbd" stroke-width="2.6"/>
<line x1="621" y1="503" x2="882" y2="503" stroke="#bdbdbd" stroke-width="1.7"/>
<line x1="621" y1="628.5" x2="882" y2="628.5" stroke="#bdbdbd" stroke-width="1.7"/>
<line x1="621" y1="755.7" x2="882" y2="755.7" stroke="#bdbdbd" stroke-width="1.7"/>
<line x1="621" y1="881.6" x2="882" y2="881.6" stroke="#bdbdbd" stroke-width="1.7"/>
<line x1="621" y1="1008.6" x2="882" y2="1008.6" stroke="#bdbdbd" stroke-width="2.6"/>
<polyline points="815.7,214.5 816.9,280 816.6,289 816.9,298 815.7,307 816.6,316 816.6,325 814.8,334 815.7,343 814.8,352 814.8,361 816.9,370 816.6,379 816.9,388 814.8,397 816.6,406 814.8,415 816.9,424 814.8,433 816.9,442 815.7,451 815.7,460 816.9,469 814.8,478 816.9,487 814.8,496 815.7,505 816.9,514 815.7,523 816.9,532 816.6,541 814.8,550 816.6,559 815.7,568 816.6,577 816.6,586 815.7,595 815.7,604 816.6,613 815.7,622 815.7,631 816.6,640 815.7,649 816.6,658 816.9,667 814.8,676 816.6,685 815.7,694 816.6,703 814.8,712 814.8,721 814.8,730 816.6,739 814.8,748 815.7,757 816.9,766 816.9,775 816.9,784 816.6,793 814.8,802 816.6,811 815.7,820 816.9,829 816.9,838 816.6,847 815.7,856 815.7,865 816.9,874 814.8,883 814.8,892 815.7,901 816.6,910 816.6,919 816.9,928 816.9,937 816.9,946 814.8,955 815.7,964 816.9,973 816.9,982 816.9,991 816.6,1000 816.9,1009 815.7,1018 816,1022" fill="none" stroke="#3030ff" stroke-width="1.7"/>
<polyline points="657.7,213.5 668.9,219.9 667,234.2 673.6,245.3 684.8,250.9 688,259.7 691.5,264.9 681.9,270.8 697.5,278 729.3,283 742,289.1 734.9,296.7 767.5,309.8 718.2,316.9 724.5,328.9 718.2,334.4 725.3,340 719.8,348.7 706.2,353.5 709.4,360.7 714.2,366.2 708.6,372.6 707,379.8 703.9,389.3 702.3,398.1 730.1,403.6 717.4,408.4 719.8,417.1 734.1,422.4 715,428.3 718.2,435.4 734.1,443.4 769.9,454.5 750,460.1 755.6,468.9 754,473.6 734.9,478.7 785,486.4 715.8,504.6 718.2,510 726.1,518 726.9,525.1 738.1,529.1 740.4,537.8 746.8,541.8 815.2,547.9 812,555.3 745.2,560.9 748.4,568.1 828.7,579.5 756.4,588.7 747.6,592.7 760.3,598.3 746.8,606.2 727.7,614.2 711.8,619.8 706.2,624.5 714.2,630.9 717.4,638.1 737.3,643.6 727.7,648.4 719.8,656.4 726.9,662.7 726.9,667.5 715.8,674.7 688.7,681 678.4,688.2 713.4,693.7 730.1,699.6 703.1,712.8 720.6,718.1 692.7,725.6 644.2,731.6 692.7,739.1 705.5,743.9 792.2,750.5 776.2,757.4 700.7,763.7 737.3,769.6 721.4,776.5 735.7,777.3 845.4,782.4 847.8,793.2 845.4,807.5 851,813.8 837.5,827.4 851,838 843.1,846.5 847,860 845.4,872.7 846.2,888.6 809.7,895.8 803.3,902.9 803.3,908.5 773.9,915.4 779.4,922 783.4,939.5 781.8,947.5 785.8,958.6 808.9,965.8 816.8,971.4 834.3,976.1 836.7,984.1 833.5,990.4 802.5,997.6 811.2,1004 815.2,1021.5" fill="none" stroke="#ff30ff" stroke-width="1.6" stroke-linejoin="round"/>
<polyline points="691.1,214.3 742,227.8 734.9,234.2 735.7,240.6 742,250.9 745.2,260.5 750,264.9 740.4,278 748.4,286.7 749.2,295.5 753.2,303.4 742,309.8 718.2,315.3 734.9,321.7 728.5,328.1 693.5,334.4 725.3,340 715,353.5 707,357.5 714.2,366.2 713.4,372.6 703.1,379 721.4,384.9 707,390.9 710.2,398.9 703.9,403.6 718.2,413.2 719.8,417.1 711.8,422.7 713.4,433.1 704.7,441 743.6,454.2 711.8,459.6 691.1,472.8 704.7,486.4 691.1,491.9 703.9,499.1 707,505.4 716.6,510.2 718.2,510 711.8,518 721.4,528.3 707,536.2 702.3,542.6 785,555.3 726.1,560.9 702.3,569.7 702.3,574.4 783.4,579.5 710.2,592.7 709.4,598.3 723.7,606.2 715.8,611.8 727.7,618.2 732.5,629.3 734.9,637.3 726.1,642 722.9,649.2 727.7,654.8 744.4,662.7 743.6,669.1 736.5,675.4 746,681 734.9,689 740.4,693.7 740.4,707.3 747.6,712.8 743.6,720 743.6,726.4 728.5,731.9 725.3,739.1 695.1,744.6 705.5,749.4 753.2,757.4 737.3,762.9 743.6,769.3 718.2,782 727.7,801.1 711.8,813.9 730.9,827.4 725.3,832.9 725.3,838.5 711.8,845.7 738.1,851.2 738.1,856.8 721.4,864.8 743.6,877.5 738.1,885.4 732.5,896.6 734.9,902.9 736.5,915.7 734.9,921.2 744.4,928.4 736.5,939.5 740.4,946.7 734.9,953.1 742,965.8 730.9,971.4 730.9,978.5 740.4,985.7 747.6,997.6 710.2,1008.7 709.9,1021.5" fill="none" stroke="#ff2525" stroke-width="1.6" stroke-linejoin="round"/>
<line x1="935" y1="217" x2="935" y2="1022.5" stroke="#bdbdbd" stroke-width="1.5"/>
<line x1="987.6" y1="217" x2="987.6" y2="1022.5" stroke="#bdbdbd" stroke-width="1.5"/>
<line x1="1038.7" y1="217" x2="1038.7" y2="1022.5" stroke="#bdbdbd" stroke-width="1.5"/>
<line x1="1091.3" y1="217" x2="1091.3" y2="1022.5" stroke="#bdbdbd" stroke-width="1.5"/>
<line x1="882" y1="250" x2="1142.5" y2="250" stroke="#bdbdbd" stroke-width="1.7"/>
<line x1="882" y1="377" x2="1142.5" y2="377" stroke="#bdbdbd" stroke-width="2.6"/>
<line x1="882" y1="503" x2="1142.5" y2="503" stroke="#bdbdbd" stroke-width="1.7"/>
<line x1="882" y1="628.5" x2="1142.5" y2="628.5" stroke="#bdbdbd" stroke-width="1.7"/>
<line x1="882" y1="755.7" x2="1142.5" y2="755.7" stroke="#bdbdbd" stroke-width="1.7"/>
<line x1="882" y1="881.6" x2="1142.5" y2="881.6" stroke="#bdbdbd" stroke-width="1.7"/>
<line x1="882" y1="1008.6" x2="1142.5" y2="1008.6" stroke="#bdbdbd" stroke-width="2.6"/>
<polyline points="1109.7,214.5 1109.7,405 1111.8,409 1111.8,751 1113.5,756 1113.5,1022" fill="none" stroke="#ff3030" stroke-width="1.3"/>
<polyline points="887.7,213.6 887.7,220.9 961.9,227.1 961.9,233.4 922.2,238.6 961.9,245.5 935.8,251.2 978.6,264.7 950.4,278.3 959.8,288.7 950.4,297.1 965,302.3 905.5,309.6 888.8,314.8 915.9,321.1 893,328.4 888.8,333.6 891.9,342 888.8,348.3 888.8,441.2 910.7,448.5 888.8,460 888.8,542.5 948.3,555 888.8,561.2 888.8,573.8 948.3,580 930.6,588.4 888.8,593.6 888.8,611.4 920.1,620 931.6,627.3 914.9,637.7 888.8,648.2 909.7,657.6 941,662.8 929.5,674.3 944.1,680.6 930.6,688.9 931.6,694.1 926.4,700.4 929.5,706.7 952.5,712.9 952.5,718.1 904.5,726.5 915.9,739 888.8,745.3 888.8,749.5 906.5,758.2 896.1,763.7 962.9,769.3 918,776.6 888.8,787 888.8,870.6 896.1,877.9 888.8,883.1 888.8,920.7 901.3,928 888.8,939.5 893,945.7 888.8,954.1 901.3,965.6 888.8,975 888.8,989.6 903.4,997.9 888.8,1004.2 887.7,1020.9" fill="none" stroke="#9a3a9a" stroke-width="1.6" stroke-linejoin="round"/>
<rect x="1144.5" y="284.6" width="20.5" height="337.1" fill="#008000"/>
<rect x="1144.5" y="631.5" width="20.5" height="83.5" fill="#008000"/>
<rect x="1144.5" y="720.2" width="20.5" height="12.6" fill="#008000"/>
<rect x="1144.5" y="734.8" width="20.5" height="1.3" fill="#008000"/>
<rect x="1144.5" y="740.1" width="20.5" height="26.1" fill="#008000"/>
<rect x="1144.5" y="770.3" width="20.5" height="8.8" fill="#008000"/>
<rect x="1144.5" y="783.9" width="20.5" height="237.4" fill="#008000"/>
<rect x="1186.3" y="284.6" width="18.5" height="21.9" fill="#ff0000"/>
<rect x="1186.3" y="316.9" width="18.5" height="13.6" fill="#ff0000"/>
<rect x="1186.3" y="335.7" width="18.5" height="10.5" fill="#ff0000"/>
<rect x="1186.3" y="348.3" width="18.5" height="14.6" fill="#ff0000"/>
<rect x="1186.3" y="392.1" width="18.5" height="8.4" fill="#ff0000"/>
<rect x="1186.3" y="442.2" width="18.5" height="8.4" fill="#ff0000"/>
<rect x="1186.3" y="479.8" width="18.5" height="9.4" fill="#ff0000"/>
<rect x="1186.3" y="493.4" width="18.5" height="8.3" fill="#ff0000"/>
<rect x="1186.3" y="599.9" width="18.5" height="7.3" fill="#ff0000"/>
<rect x="1186.3" y="612.4" width="18.5" height="9.4" fill="#ff0000"/>
<rect x="1186.3" y="631.5" width="18.5" height="14.6" fill="#ff0000"/>
<rect x="1186.3" y="649.2" width="18.5" height="65.8" fill="#ff0000"/>
<rect x="1186.3" y="727.5" width="18.5" height="4.2" fill="#ff0000"/>
<rect x="1186.3" y="733.8" width="18.5" height="2.1" fill="#ff0000"/>
<rect x="1186.3" y="741.1" width="18.5" height="5.2" fill="#ff0000"/>
<rect x="1186.3" y="770.3" width="18.5" height="8.4" fill="#ff0000"/>
<line x1="1259.7" y1="217" x2="1259.7" y2="1022.5" stroke="#bdbdbd" stroke-width="1.5"/>
<line x1="1312.2" y1="217" x2="1312.2" y2="1022.5" stroke="#bdbdbd" stroke-width="1.5"/>
<line x1="1363.1" y1="217" x2="1363.1" y2="1022.5" stroke="#bdbdbd" stroke-width="1.5"/>
<line x1="1415.1" y1="217" x2="1415.1" y2="1022.5" stroke="#bdbdbd" stroke-width="1.5"/>
<line x1="1206" y1="250" x2="1467" y2="250" stroke="#bdbdbd" stroke-width="1.7"/>
<line x1="1206" y1="377" x2="1467" y2="377" stroke="#bdbdbd" stroke-width="2.6"/>
<line x1="1206" y1="503" x2="1467" y2="503" stroke="#bdbdbd" stroke-width="1.7"/>
<line x1="1206" y1="628.5" x2="1467" y2="628.5" stroke="#bdbdbd" stroke-width="1.7"/>
<line x1="1206" y1="755.7" x2="1467" y2="755.7" stroke="#bdbdbd" stroke-width="1.7"/>
<line x1="1206" y1="881.6" x2="1467" y2="881.6" stroke="#bdbdbd" stroke-width="1.7"/>
<line x1="1206" y1="1008.6" x2="1467" y2="1008.6" stroke="#bdbdbd" stroke-width="2.6"/>
<polygon points="1207.5,250.9 1465.5,252.5 1465.5,306.6 1398.4,309 1258.4,313.3 1207.5,313.9" fill="#ff0000"/>
<polygon points="1207.5,314.5 1458.9,321.2 1404.8,328.9 1306.1,332.4 1207.5,335.2" fill="#ff0000"/>
<polygon points="1207.5,334.4 1301.4,335.2 1465.5,339.7 1465.5,341.6 1341.1,347.2 1465.5,352.7 1465.5,359.1 1304.5,363.1 1207.5,365.4" fill="#ff0000"/>
<polygon points="1207.5,366.2 1291.8,371.8 1207.5,376.6" fill="#ff0000"/>
<polygon points="1207.5,379.8 1237.7,384.5 1207.5,389.3" fill="#ff0000"/>
<polygon points="1207.5,391.7 1465.5,397.3 1465.5,399.2 1207.5,404.4" fill="#ff0000"/>
<polygon points="1207.5,408.4 1370.6,421.9 1366.6,430.7 1207.5,440.2" fill="#ff0000"/>
<polygon points="1207.5,441.8 1465.5,447.4 1465.5,449 1207.5,460.1" fill="#ff0000"/>
<polygon points="1207.5,477.6 1465.5,485.9 1465.5,487.6 1325.2,491.1 1404.8,499.4 1322,510.2 1337.2,518.3 1207.5,524.7" fill="#ff0000"/>
<polygon points="1207.5,541.4 1331.6,547.4 1207.5,555.7" fill="#ff0000"/>
<polygon points="1207.5,597.8 1415.1,605.8 1293.4,614.5 1207.5,611.4" fill="#ff0000"/>
<polygon points="1207.5,610.6 1258.4,611.4 1465.5,618.5 1465.5,644 1412.7,645.6 1312.5,650.3 1207.5,649.5" fill="#ff0000"/>
<polygon points="1207.5,651.1 1258.4,648.7 1465.5,656.7 1465.5,724.6 1288.6,725.6 1465.5,730.2 1465.5,745 1293.4,749.8 1207.5,751.7" fill="#ff0000"/>
<polygon points="1207.5,757.4 1312.5,763.7 1465.5,764.9 1465.5,786 1207.5,788.4" fill="#ff0000"/>
<polygon points="1207.5,952.3 1273.5,965.8 1207.5,972.1" fill="#ff0000"/>
<polygon points="1207.5,579.5 1244.9,587.2 1207.5,593.9" fill="none" stroke="#ff0000" stroke-width="1.3"/>
<line x1="1520.5" y1="217" x2="1520.5" y2="1022.5" stroke="#bdbdbd" stroke-width="1.5"/>
<line x1="1573" y1="217" x2="1573" y2="1022.5" stroke="#bdbdbd" stroke-width="1.5"/>
<line x1="1623.9" y1="217" x2="1623.9" y2="1022.5" stroke="#bdbdbd" stroke-width="1.5"/>
<line x1="1675.9" y1="217" x2="1675.9" y2="1022.5" stroke="#bdbdbd" stroke-width="1.5"/>
<line x1="1467" y1="250" x2="1728" y2="250" stroke="#bdbdbd" stroke-width="1.7"/>
<line x1="1467" y1="377" x2="1728" y2="377" stroke="#bdbdbd" stroke-width="2.6"/>
<line x1="1467" y1="503" x2="1728" y2="503" stroke="#bdbdbd" stroke-width="1.7"/>
<line x1="1467" y1="628.5" x2="1728" y2="628.5" stroke="#bdbdbd" stroke-width="1.7"/>
<line x1="1467" y1="755.7" x2="1728" y2="755.7" stroke="#bdbdbd" stroke-width="1.7"/>
<line x1="1467" y1="881.6" x2="1728" y2="881.6" stroke="#bdbdbd" stroke-width="1.7"/>
<line x1="1467" y1="1008.6" x2="1728" y2="1008.6" stroke="#bdbdbd" stroke-width="2.6"/>
<polygon points="1726,281.1 1718.1,296.2 1725.2,301.8 1726.5,301.8" fill="#ff0000"/>
<polygon points="1693.4,322.5 1718.9,316.1 1726.5,321.7 1718.9,327.3 1717.3,334.4 1688.6,328.1" fill="#ff0000"/>
<polygon points="1696.6,309.8 1710.9,311.4 1718.9,315.3" fill="#ff0000"/>
<polygon points="1687,340.3 1717.3,335.2 1726.5,341.6 1718.9,347.2 1717.3,347.9" fill="#ff0000"/>
<polygon points="1715.7,351.1 1726.5,349.5 1726.5,359.1 1718.9,363.9 1715.7,359.1" fill="#ff0000"/>
<polygon points="1717.3,392.5 1726,397.3 1717.3,402" fill="#ff0000"/>
<polygon points="1717.3,414.8 1722.8,419.5 1723.6,430.7 1717.3,440.2" fill="#ff0000"/>
<polygon points="1695,449 1717.3,441.8 1726.5,448.2 1712.5,456.1 1696.6,454.5" fill="#ff0000"/>
<polygon points="1717.3,481.6 1726,486.4 1717.3,491.1" fill="#ff0000"/>
<polygon points="1717.3,494.3 1722.8,500.7 1722.8,520.1 1717.3,520.1" fill="#ff0000"/>
<polygon points="1717.3,500 1722.8,500 1722,517.5 1718.9,519.9 1717.3,519.9" fill="#ff0000"/>
<polygon points="1699,547.4 1712.5,545.3 1712.5,554.1" fill="#ff0000"/>
<polygon points="1687.8,605.8 1718.1,599.4 1720.4,605 1718.1,609.8 1715.7,612.2" fill="#ff0000"/>
<polygon points="1705.3,618.5 1715.7,612.2 1726.5,617.7 1726.5,623.3" fill="#ff0000"/>
<polygon points="1695,643.2 1726.5,630.4 1726.5,643.2 1715.7,649.1" fill="#ff0000"/>
<polygon points="1695,656.7 1715.7,649.1 1726.5,655.1 1726.5,718.7 1704.5,708.4 1701.4,701.2 1704.5,694.1 1718.9,688.5 1712.5,680.6 1717.3,675 1706.9,667 1707.7,660.7" fill="#ff0000"/>
<polygon points="1691.8,731.9 1699.8,726.7 1720.4,729.1 1726.5,730.7 1726.5,739.4" fill="#ff0000"/>
<polygon points="1715.7,745.8 1726.5,741.8 1726.5,745 1718.9,748.2" fill="#ff0000"/>
<polygon points="1695.8,763.3 1699.8,759.3 1712.5,765.7" fill="#ff0000"/>
<polygon points="1706.1,776.8 1726.5,770.4 1726.5,782.4" fill="#ff0000"/>
<polygon points="1697.4,959.4 1707.7,968.2 1697.4,965.8" fill="#ff0000"/>
<polyline points="1642.5,213.5 1642.5,219.1 1631.4,227.8 1640.9,238.2 1639.3,246.1 1642.5,250.9 1631.4,259.7 1632.2,265.2 1643.3,282.7 1640.9,295.5 1644.9,302.6 1670.3,314.9 1635.3,321.7 1644.9,328.1 1691.8,333.9 1625.8,340.3 1664,347.9 1656,353.5 1671.9,365.4 1667.9,371.8 1681.5,379 1671.1,384.5 1679.1,390.1 1650.4,398.1 1687,403.6 1665.6,416.4 1670.3,421.9 1653.6,429.9 1667.9,435.4 1668.7,441.8 1625.8,448.5 1666.4,454.1 1681.5,460.4 1682.3,466.5 1696.6,472.8 1652,486 1671.1,491.9 1656,499.9 1663.2,510.3 1657.6,517.5 1675.9,530.2 1687.8,541.4 1682.3,547.7 1713.3,554.9 1698.2,561.2 1695,574 1709.3,579.5 1669.5,587.2 1687,597 1633.7,605.8 1667.9,611.7 1633.7,619 1640.1,628.9 1625.8,643.2 1673.5,649.1 1625.8,656.7 1636.9,661.5 1640.1,675 1636.9,682.2 1642.5,688.5 1632.9,694.1 1642.5,699.7 1632.9,706.8 1641.7,717.9 1658.4,725.6 1631.4,732.3 1650.4,744.2 1679.1,750.6 1684.6,756.9 1635.3,768.9 1631.4,781.6 1691,787.9 1691,795.9 1685.4,800.3 1690.2,807.5 1704.5,813.9 1703.7,819.4 1691.8,827.4 1698.2,832.9 1697.4,840.9 1699,850.4 1697.4,856.8 1704.5,864 1717.3,869.5 1661.6,883.1 1681.5,887.8 1683.9,896.6 1680.7,907.7 1685.4,920.4 1660,927.6 1659.2,934 1656,939.5 1663.2,946.7 1687,952.6 1650.4,958.6 1664.8,967.4 1688.6,971.4 1690.2,976.9 1712.5,984.9 1685.4,989.6 1675.1,997.6 1701.4,1004 1695.8,1008.7 1715.7,1021.5" fill="none" stroke="#2a2a9e" stroke-width="1.6" stroke-linejoin="round"/>
<polyline points="1726,281.1 1718.1,296.2 1725.2,301.8 1696.6,309.8 1718.9,315.3 1693.4,322.5 1688.6,328.1 1717.3,334.4 1687,340.3 1717.3,347.9 1715.7,359.1 1717.3,365.4 1717.3,441.8 1695,449 1696.6,454.5 1717.3,460.1 1717.3,520.1 1717.3,542.2 1699,547.4 1713.3,554.9 1718.1,562 1715.7,574.8 1710.9,582.7 1718.1,593.9 1718.1,599.4 1687.8,605.8 1715.7,612.2 1705.3,618.5 1726,623.3 1726,630.4 1695,643.2 1715.7,649.1 1695,656.7 1707.7,660.7 1706.9,667 1717.3,675 1712.5,680.6 1718.9,688.5 1704.5,694.1 1701.4,701.2 1704.5,708.4 1726,718.7 1699.8,726.7 1691.8,731.9 1726,739.4 1715.7,745.8 1715.7,749.8 1695.8,763.3 1726,768.9 1706.1,776.8 1726,782.4 1717.3,787.9 1717.3,788.4 1717.3,809.1 1715.7,813.9 1717.3,818.6 1717.3,869.5 1695.8,877.5 1695.8,882.3 1717.3,888.6 1717.3,920.4 1698.2,927.6 1695,939.5 1698.2,945.9 1717.3,952.6 1697.4,959.4 1697.4,965.8 1717.3,972.1 1717.3,984.1 1695,988.9 1698.2,997.6 1717.3,1004 1717.3,1021.5" fill="none" stroke="#3838ff" stroke-width="1.6" stroke-linejoin="round"/>
<rect x="1729.5" y="215" width="259.5" height="807" fill="#fff"/>
<rect x="1729.5" y="215" width="259.5" height="807" fill="url(#dash)"/>
<clipPath id="c9"><polygon points="1952.4,215 1952.4,213.5 1949.3,220.7 1987.4,228.6 1962.8,237.4 1971.5,246.1 1947.7,251.7 1987.4,259.7 1988.2,266.8 1966.8,278 1944.5,285.1 1932.6,296.2 1939.7,301.8 1835.5,310.6 1895.2,320.9 1842.7,328.1 1788.6,334.4 1892,340.3 1866.5,347.9 1891.2,354.3 1848.2,365.4 1860.2,371 1822,379 1852.2,384.5 1828.4,389.3 1831.5,393.3 1904.7,398.1 1811.7,402.8 1868.1,416.4 1849,423.5 1894.4,429.9 1864.9,437 1860.2,441.8 1914.3,448.2 1812.5,454.5 1825.2,460.9 1826.8,468.9 1781.4,472.8 1900.7,485.6 1843.5,491.9 1888.8,499.4 1876.1,510.3 1885.6,518.3 1831.5,534.2 1783.8,546.1 1729.7,554.9 1779,559.7 1785.4,574 1739.3,581.1 1833.1,587.5 1812.5,597.8 1866.5,605.8 1864.9,610.6 1904.7,618.5 1987.4,626.5 1903.1,635.2 1901.5,640 1914.3,643.2 1842.7,649.5 1909.5,656.7 1915.1,662.3 1907.9,667 1930.2,675 1928.6,679.8 1933.4,688.5 1922.2,694.1 1885.6,700.4 1915.9,708.4 1931.8,715.6 1947.7,718.7 1832.3,725.1 1907.9,733.9 1985.9,738.6 1860.2,748.2 1769.5,758.5 1939.7,767.3 1987.4,769.6 1917.4,776 1987.4,783.2 1796.5,786.4 1799.7,796.4 1814,801.1 1802.9,807.5 1760,816.2 1763.1,820.2 1795.7,827.4 1777.5,833.7 1779.8,842.5 1776.7,850.4 1779.8,856.8 1760,864 1729.7,870.3 1764.7,876.7 1815.6,881.5 1822,887.8 1817.2,896.6 1825.2,909.3 1809.3,919.7 1833.1,927.6 1830.7,940.3 1812.5,948.3 1810.9,953.1 1850.6,958.1 1803.7,972.1 1802.9,977.7 1740.9,984.9 1795,997.6 1766.3,1002.4 1790.2,1008.3 1760,1017.5 1731.3,1021.5 1729.5,1022 1984.3,1022 1984.3,1021.5 1984.3,1004.8 1974.7,998.4 1973.1,990.4 1984.3,982.5 1984.3,972.1 1974.7,965.8 1973.1,960.2 1984.3,952.6 1973.1,945.9 1973.1,928.4 1984.3,918.9 1984.3,888.6 1973.1,882.3 1973.1,879.1 1984.3,869.5 1984.3,786.8 1984.3,787.9 1987.4,782.4 1979.5,776.8 1987.4,768.9 1973.1,763.3 1982.7,749.8 1981.1,745.8 1987.4,738.6 1971.5,731.5 1987.4,717.9 1977.9,708.4 1977.9,700.4 1985.9,687.7 1979.5,681.4 1982.7,675 1979.5,668.6 1971.5,656.7 1982.7,649.5 1973.1,641.6 1988.2,626.5 1977.9,618.5 1982.7,611.4 1969.9,605 1982.7,595.5 1977.1,587.5 1982.7,576.4 1981.9,558.9 1974.7,547.7 1984.3,541.4 1984.3,520.1 1983.5,460.1 1973.1,452.1 1984.3,438.6 1982.7,347.9 1969.9,340.8 1982.7,334.4 1971.5,327.3 1982.7,314.5 1974.7,309.8 1984.3,298.6 1988.2,279.5 1987.4,213.5 1987.4,215"/></clipPath>
<polygon points="1952.4,215 1952.4,213.5 1949.3,220.7 1987.4,228.6 1962.8,237.4 1971.5,246.1 1947.7,251.7 1987.4,259.7 1988.2,266.8 1966.8,278 1944.5,285.1 1932.6,296.2 1939.7,301.8 1835.5,310.6 1895.2,320.9 1842.7,328.1 1788.6,334.4 1892,340.3 1866.5,347.9 1891.2,354.3 1848.2,365.4 1860.2,371 1822,379 1852.2,384.5 1828.4,389.3 1831.5,393.3 1904.7,398.1 1811.7,402.8 1868.1,416.4 1849,423.5 1894.4,429.9 1864.9,437 1860.2,441.8 1914.3,448.2 1812.5,454.5 1825.2,460.9 1826.8,468.9 1781.4,472.8 1900.7,485.6 1843.5,491.9 1888.8,499.4 1876.1,510.3 1885.6,518.3 1831.5,534.2 1783.8,546.1 1729.7,554.9 1779,559.7 1785.4,574 1739.3,581.1 1833.1,587.5 1812.5,597.8 1866.5,605.8 1864.9,610.6 1904.7,618.5 1987.4,626.5 1903.1,635.2 1901.5,640 1914.3,643.2 1842.7,649.5 1909.5,656.7 1915.1,662.3 1907.9,667 1930.2,675 1928.6,679.8 1933.4,688.5 1922.2,694.1 1885.6,700.4 1915.9,708.4 1931.8,715.6 1947.7,718.7 1832.3,725.1 1907.9,733.9 1985.9,738.6 1860.2,748.2 1769.5,758.5 1939.7,767.3 1987.4,769.6 1917.4,776 1987.4,783.2 1796.5,786.4 1799.7,796.4 1814,801.1 1802.9,807.5 1760,816.2 1763.1,820.2 1795.7,827.4 1777.5,833.7 1779.8,842.5 1776.7,850.4 1779.8,856.8 1760,864 1729.7,870.3 1764.7,876.7 1815.6,881.5 1822,887.8 1817.2,896.6 1825.2,909.3 1809.3,919.7 1833.1,927.6 1830.7,940.3 1812.5,948.3 1810.9,953.1 1850.6,958.1 1803.7,972.1 1802.9,977.7 1740.9,984.9 1795,997.6 1766.3,1002.4 1790.2,1008.3 1760,1017.5 1731.3,1021.5 1729.5,1022 1984.3,1022 1984.3,1021.5 1984.3,1004.8 1974.7,998.4 1973.1,990.4 1984.3,982.5 1984.3,972.1 1974.7,965.8 1973.1,960.2 1984.3,952.6 1973.1,945.9 1973.1,928.4 1984.3,918.9 1984.3,888.6 1973.1,882.3 1973.1,879.1 1984.3,869.5 1984.3,786.8 1984.3,787.9 1987.4,782.4 1979.5,776.8 1987.4,768.9 1973.1,763.3 1982.7,749.8 1981.1,745.8 1987.4,738.6 1971.5,731.5 1987.4,717.9 1977.9,708.4 1977.9,700.4 1985.9,687.7 1979.5,681.4 1982.7,675 1979.5,668.6 1971.5,656.7 1982.7,649.5 1973.1,641.6 1988.2,626.5 1977.9,618.5 1982.7,611.4 1969.9,605 1982.7,595.5 1977.1,587.5 1982.7,576.4 1981.9,558.9 1974.7,547.7 1984.3,541.4 1984.3,520.1 1983.5,460.1 1973.1,452.1 1984.3,438.6 1982.7,347.9 1969.9,340.8 1982.7,334.4 1971.5,327.3 1982.7,314.5 1974.7,309.8 1984.3,298.6 1988.2,279.5 1987.4,213.5 1987.4,215" fill="url(#dots)"/>
<polygon points="1987.4,215 1987.4,213.5 1988.2,279.5 1984.3,298.6 1974.7,309.8 1982.7,314.5 1971.5,327.3 1982.7,334.4 1969.9,340.8 1982.7,347.9 1984.3,438.6 1973.1,452.1 1983.5,460.1 1984.3,520.1 1984.3,541.4 1974.7,547.7 1981.9,558.9 1982.7,576.4 1977.1,587.5 1982.7,595.5 1969.9,605 1982.7,611.4 1977.9,618.5 1988.2,626.5 1973.1,641.6 1982.7,649.5 1971.5,656.7 1979.5,668.6 1982.7,675 1979.5,681.4 1985.9,687.7 1977.9,700.4 1977.9,708.4 1987.4,717.9 1971.5,731.5 1987.4,738.6 1981.1,745.8 1982.7,749.8 1973.1,763.3 1987.4,768.9 1979.5,776.8 1987.4,782.4 1984.3,787.9 1984.3,786.8 1984.3,869.5 1973.1,879.1 1973.1,882.3 1984.3,888.6 1984.3,918.9 1973.1,928.4 1973.1,945.9 1984.3,952.6 1973.1,960.2 1974.7,965.8 1984.3,972.1 1984.3,982.5 1973.1,990.4 1974.7,998.4 1984.3,1004.8 1984.3,1021.5 1984.3,1022 1989,1022 1989,215" fill="#fff"/>
<polyline points="1952.4,215 1952.4,213.5 1949.3,220.7 1987.4,228.6 1962.8,237.4 1971.5,246.1 1947.7,251.7 1987.4,259.7 1988.2,266.8 1966.8,278 1944.5,285.1 1932.6,296.2 1939.7,301.8 1835.5,310.6 1895.2,320.9 1842.7,328.1 1788.6,334.4 1892,340.3 1866.5,347.9 1891.2,354.3 1848.2,365.4 1860.2,371 1822,379 1852.2,384.5 1828.4,389.3 1831.5,393.3 1904.7,398.1 1811.7,402.8 1868.1,416.4 1849,423.5 1894.4,429.9 1864.9,437 1860.2,441.8 1914.3,448.2 1812.5,454.5 1825.2,460.9 1826.8,468.9 1781.4,472.8 1900.7,485.6 1843.5,491.9 1888.8,499.4 1876.1,510.3 1885.6,518.3 1831.5,534.2 1783.8,546.1 1729.7,554.9 1779,559.7 1785.4,574 1739.3,581.1 1833.1,587.5 1812.5,597.8 1866.5,605.8 1864.9,610.6 1904.7,618.5 1987.4,626.5 1903.1,635.2 1901.5,640 1914.3,643.2 1842.7,649.5 1909.5,656.7 1915.1,662.3 1907.9,667 1930.2,675 1928.6,679.8 1933.4,688.5 1922.2,694.1 1885.6,700.4 1915.9,708.4 1931.8,715.6 1947.7,718.7 1832.3,725.1 1907.9,733.9 1985.9,738.6 1860.2,748.2 1769.5,758.5 1939.7,767.3 1987.4,769.6 1917.4,776 1987.4,783.2 1796.5,786.4 1799.7,796.4 1814,801.1 1802.9,807.5 1760,816.2 1763.1,820.2 1795.7,827.4 1777.5,833.7 1779.8,842.5 1776.7,850.4 1779.8,856.8 1760,864 1729.7,870.3 1764.7,876.7 1815.6,881.5 1822,887.8 1817.2,896.6 1825.2,909.3 1809.3,919.7 1833.1,927.6 1830.7,940.3 1812.5,948.3 1810.9,953.1 1850.6,958.1 1803.7,972.1 1802.9,977.7 1740.9,984.9 1795,997.6 1766.3,1002.4 1790.2,1008.3 1760,1017.5 1731.3,1021.5" fill="none" stroke="#2f962f" stroke-width="1.8" stroke-linejoin="round"/>
<polyline points="1985.9,213.5 1987.4,228.6 1981.1,237.4 1987.4,252.5 1988.2,266.8 1987.4,282.7 1971.5,297 1977.9,301.8 1936.5,310.6 1973.1,315.3 1923.8,328.1 1977.9,334.4 1919.8,340.8 1969.9,347.9 1966.8,355.9 1969.9,365.4 1971.5,390.9 1967.6,398.9 1971.5,422.7 1970.7,441.8 1934.1,448.2 1934.9,452.9 1969.9,460.1 1971.5,486.4 1968.4,502.3 1969.9,500 1971.5,541.4 1939.7,547.7 1965.2,554.1 1971.5,563.6 1969.9,574.8 1955.6,587.5 1971.5,593.9 1965.2,600.2 1920.6,605.8 1973.1,611.4 1952.4,618.5 1987.4,626.5 1942.9,635.2 1933.4,643.2 1977.9,649.5 1931.8,656.7 1952.4,663.9 1950.9,668.6 1971.5,675 1962,679.8 1973.1,687.7 1944.5,698.9 1946.1,706.8 1984.3,717.9 1928.6,730.7 1987.4,738.6 1968.4,748.2 1969.9,752.9 1936.5,761.7 1987.4,769.6 1952.4,774.4 1987.4,783.2 1968.4,787.9 1968.4,786.8 1971.5,863.2 1968.4,869.5 1933.4,881.5 1971.5,888.6 1969.9,918.9 1941.3,927.6 1933.4,940.3 1936.5,945.9 1968.4,953.1 1934.9,958.6 1936.5,968.2 1968.4,972.1 1969.9,982.5 1934.9,990.4 1939.7,998.4 1969.9,1004.8 1969.9,1021.5" fill="none" stroke="#2f962f" stroke-width="1.6" stroke-linejoin="round"/>
<polyline points="1987.4,215 1987.4,213.5 1988.2,279.5 1984.3,298.6 1974.7,309.8 1982.7,314.5 1971.5,327.3 1982.7,334.4 1969.9,340.8 1982.7,347.9 1984.3,438.6 1973.1,452.1 1983.5,460.1 1984.3,520.1 1984.3,541.4 1974.7,547.7 1981.9,558.9 1982.7,576.4 1977.1,587.5 1982.7,595.5 1969.9,605 1982.7,611.4 1977.9,618.5 1988.2,626.5 1973.1,641.6 1982.7,649.5 1971.5,656.7 1979.5,668.6 1982.7,675 1979.5,681.4 1985.9,687.7 1977.9,700.4 1977.9,708.4 1987.4,717.9 1971.5,731.5 1987.4,738.6 1981.1,745.8 1982.7,749.8 1973.1,763.3 1987.4,768.9 1979.5,776.8 1987.4,782.4 1984.3,787.9 1984.3,786.8 1984.3,869.5 1973.1,879.1 1973.1,882.3 1984.3,888.6 1984.3,918.9 1973.1,928.4 1973.1,945.9 1984.3,952.6 1973.1,960.2 1974.7,965.8 1984.3,972.1 1984.3,982.5 1973.1,990.4 1974.7,998.4 1984.3,1004.8 1984.3,1021.5 1984.3,1022" fill="none" stroke="#3838ff" stroke-width="1.6" stroke-linejoin="round"/>
<rect x="15.5" y="213.5" width="260.5" height="809.0" fill="none" stroke="#000" stroke-width="2.9"/>
<rect x="276" y="213.5" width="84" height="809.0" fill="none" stroke="#000" stroke-width="2.9"/>
<rect x="360" y="213.5" width="261" height="809.0" fill="none" stroke="#000" stroke-width="2.9"/>
<rect x="621" y="213.5" width="261" height="809.0" fill="none" stroke="#000" stroke-width="2.9"/>
<rect x="882" y="213.5" width="260.5" height="809.0" fill="none" stroke="#000" stroke-width="2.9"/>
<rect x="1142.5" y="213.5" width="63.5" height="809.0" fill="none" stroke="#000" stroke-width="2.9"/>
<rect x="1206" y="213.5" width="261" height="809.0" fill="none" stroke="#000" stroke-width="2.9"/>
<rect x="1467" y="213.5" width="261" height="809.0" fill="none" stroke="#000" stroke-width="2.9"/>
<rect x="1728" y="213.5" width="262.5" height="809.0" fill="none" stroke="#000" stroke-width="2.9"/>
<g font-family="'Liberation Sans',sans-serif">
<text x="13.5" y="1104.4" font-size="66" font-weight="bold" fill="#000">(b)</text>
<text x="1004.3" y="1073.3" font-size="35.5" fill="#22228e" stroke="#22228e" stroke-width="0.3" text-anchor="middle" textLength="203" lengthAdjust="spacingAndGlyphs">APLC / ROHB</text>
<text x="999.6" y="1116" font-size="29.5" fill="#222" stroke="#222" stroke-width="0.3" text-anchor="middle" textLength="285" lengthAdjust="spacingAndGlyphs">Interval : 0 : 4999.94</text>
<text x="1094.5" y="1163.4" font-size="27" fill="#22228e" stroke="#22228e" stroke-width="0.3" text-anchor="middle" textLength="141.5" lengthAdjust="spacingAndGlyphs">APLC (V/V)</text>
<circle cx="489.2" cy="1168" r="1.5" fill="#3030ff"/>
<text x="277.7" y="1198.3" font-size="26" fill="#222" stroke="#222" stroke-width="0.3" text-anchor="middle">-0.245</text>
<line x1="246.7" y1="1208" x2="246.7" y2="1214" stroke="#333" stroke-width="2"/>
<text x="460.6" y="1198.3" font-size="26" fill="#222" stroke="#222" stroke-width="0.3" text-anchor="middle">-0.115</text>
<line x1="460.6" y1="1208" x2="460.6" y2="1214" stroke="#333" stroke-width="2"/>
<text x="674.5" y="1198.3" font-size="26" fill="#222" stroke="#222" stroke-width="0.3" text-anchor="middle">0.015</text>
<line x1="674.5" y1="1208" x2="674.5" y2="1214" stroke="#333" stroke-width="2"/>
<text x="888.4" y="1198.3" font-size="26" fill="#222" stroke="#222" stroke-width="0.3" text-anchor="middle">0.145</text>
<line x1="888.4" y1="1208" x2="888.4" y2="1214" stroke="#333" stroke-width="2"/>
<text x="1102.3" y="1198.3" font-size="26" fill="#222" stroke="#222" stroke-width="0.3" text-anchor="middle">0.275</text>
<line x1="1102.3" y1="1208" x2="1102.3" y2="1214" stroke="#333" stroke-width="2"/>
<text x="1316.2" y="1198.3" font-size="26" fill="#222" stroke="#222" stroke-width="0.3" text-anchor="middle">0.405</text>
<line x1="1316.2" y1="1208" x2="1316.2" y2="1214" stroke="#333" stroke-width="2"/>
<text x="1530.1" y="1198.3" font-size="26" fill="#222" stroke="#222" stroke-width="0.3" text-anchor="middle">0.535</text>
<line x1="1530.1" y1="1208" x2="1530.1" y2="1214" stroke="#333" stroke-width="2"/>
<text x="1744" y="1198.3" font-size="26" fill="#222" stroke="#222" stroke-width="0.3" text-anchor="middle">0.665</text>
<line x1="1744" y1="1208" x2="1744" y2="1214" stroke="#333" stroke-width="2"/>
<text x="1957.9" y="1198.3" font-size="26" fill="#222" stroke="#222" stroke-width="0.3" text-anchor="middle">0.795</text>
<line x1="1957.9" y1="1208" x2="1957.9" y2="1214" stroke="#333" stroke-width="2"/>
<rect x="246.7" y="1214" width="1711.3" height="134.5" fill="#fff"/>
<line x1="246.7" y1="1236.7" x2="1958" y2="1236.7" stroke="#c6c6c6" stroke-width="1.5"/>
<line x1="246.7" y1="1292.4" x2="1958" y2="1292.4" stroke="#c6c6c6" stroke-width="1.5"/>
<line x1="460.6" y1="1214" x2="460.6" y2="1348.5" stroke="#c6c6c6" stroke-width="1.5"/>
<line x1="674.5" y1="1214" x2="674.5" y2="1348.5" stroke="#c6c6c6" stroke-width="1.5"/>
<line x1="888.4" y1="1214" x2="888.4" y2="1348.5" stroke="#c6c6c6" stroke-width="1.5"/>
<line x1="1102.3" y1="1214" x2="1102.3" y2="1348.5" stroke="#c6c6c6" stroke-width="1.5"/>
<line x1="1316.2" y1="1214" x2="1316.2" y2="1348.5" stroke="#c6c6c6" stroke-width="1.5"/>
<line x1="1530.1" y1="1214" x2="1530.1" y2="1348.5" stroke="#c6c6c6" stroke-width="1.5"/>
<line x1="1744" y1="1214" x2="1744" y2="1348.5" stroke="#c6c6c6" stroke-width="1.5"/>
<text x="253" y="1263" font-size="26" fill="#c9c9c9" stroke="#c9c9c9" stroke-width="0.3">2000</text>
<text x="253" y="1319" font-size="26" fill="#c9c9c9" stroke="#c9c9c9" stroke-width="0.3">1000</text>
<rect x="794.3" y="1347.0" width="34.2" height="1.5" fill="url(#bar)" stroke="#060638" stroke-width="1.6"/>
<rect x="897.0" y="1347.5" width="34.2" height="1.0" fill="url(#bar)" stroke="#060638" stroke-width="1.6"/>
<rect x="931.2" y="1346.3" width="34.2" height="2.2" fill="url(#bar)" stroke="#060638" stroke-width="1.6"/>
<rect x="965.4" y="1344.5" width="34.2" height="4.0" fill="url(#bar)" stroke="#060638" stroke-width="1.6"/>
<rect x="999.7" y="1342.8" width="34.2" height="5.7" fill="url(#bar)" stroke="#060638" stroke-width="1.6"/>
<rect x="1033.9" y="1340.5" width="34.2" height="8.0" fill="url(#bar)" stroke="#060638" stroke-width="1.6"/>
<rect x="1068.1" y="1328.8" width="34.2" height="19.7" fill="url(#bar)" stroke="#060638" stroke-width="1.6"/>
<rect x="1102.3" y="1312.5" width="34.2" height="36.0" fill="url(#bar)" stroke="#060638" stroke-width="1.6"/>
<rect x="1136.6" y="1309.8" width="34.2" height="38.7" fill="url(#bar)" stroke="#060638" stroke-width="1.6"/>
<rect x="1170.8" y="1307.9" width="34.2" height="40.6" fill="url(#bar)" stroke="#060638" stroke-width="1.6"/>
<rect x="1205.0" y="1307.9" width="34.2" height="40.6" fill="url(#bar)" stroke="#060638" stroke-width="1.6"/>
<rect x="1239.3" y="1307.9" width="34.2" height="40.6" fill="url(#bar)" stroke="#060638" stroke-width="1.6"/>
<rect x="1273.5" y="1298.5" width="34.2" height="50.0" fill="url(#bar)" stroke="#060638" stroke-width="1.6"/>
<rect x="1307.7" y="1272.7" width="34.2" height="75.8" fill="url(#bar)" stroke="#060638" stroke-width="1.6"/>
<rect x="1341.9" y="1246.5" width="34.2" height="102.0" fill="url(#bar)" stroke="#060638" stroke-width="1.6"/>
<rect x="1376.2" y="1227.5" width="34.2" height="121.0" fill="url(#bar)" stroke="#060638" stroke-width="1.6"/>
<rect x="1410.4" y="1227.5" width="34.2" height="121.0" fill="url(#bar)" stroke="#060638" stroke-width="1.6"/>
<rect x="1444.6" y="1261.4" width="34.2" height="87.1" fill="url(#bar)" stroke="#060638" stroke-width="1.6"/>
<rect x="1478.8" y="1288.2" width="34.2" height="60.3" fill="url(#bar)" stroke="#060638" stroke-width="1.6"/>
<rect x="1513.1" y="1311.5" width="34.2" height="37.0" fill="url(#bar)" stroke="#060638" stroke-width="1.6"/>
<rect x="1547.3" y="1328.8" width="34.2" height="19.7" fill="url(#bar)" stroke="#060638" stroke-width="1.6"/>
<rect x="1581.5" y="1335.5" width="34.2" height="13.0" fill="url(#bar)" stroke="#060638" stroke-width="1.6"/>
<rect x="1615.7" y="1342.3" width="34.2" height="6.2" fill="url(#bar)" stroke="#060638" stroke-width="1.6"/>
<rect x="1650.0" y="1346.3" width="34.2" height="2.2" fill="url(#bar)" stroke="#060638" stroke-width="1.6"/>
<rect x="246.7" y="1214" width="1711.3" height="134.5" fill="none" stroke="#2a2a2a" stroke-width="2.4"/>
<rect x="92.4" y="1372.5" width="135.6" height="551.0" fill="#fff"/>
<line x1="92.4" y1="1441.38" x2="228" y2="1441.38" stroke="#c6c6c6" stroke-width="1.5"/>
<line x1="92.4" y1="1510.25" x2="228" y2="1510.25" stroke="#c6c6c6" stroke-width="1.5"/>
<line x1="92.4" y1="1579.12" x2="228" y2="1579.12" stroke="#c6c6c6" stroke-width="1.5"/>
<line x1="92.4" y1="1648" x2="228" y2="1648" stroke="#c6c6c6" stroke-width="1.5"/>
<line x1="92.4" y1="1716.88" x2="228" y2="1716.88" stroke="#c6c6c6" stroke-width="1.5"/>
<line x1="92.4" y1="1785.75" x2="228" y2="1785.75" stroke="#c6c6c6" stroke-width="1.5"/>
<line x1="92.4" y1="1854.62" x2="228" y2="1854.62" stroke="#c6c6c6" stroke-width="1.5"/>
<line x1="112.7" y1="1372.5" x2="112.7" y2="1923.5" stroke="#c6c6c6" stroke-width="1.5"/>
<line x1="171.5" y1="1372.5" x2="171.5" y2="1923.5" stroke="#c6c6c6" stroke-width="1.5"/>
<rect x="226.5" y="1449.6" width="1.5" height="11.0" fill="url(#barv)" stroke="#060638" stroke-width="1.6"/>
<rect x="226.0" y="1460.7" width="2.0" height="11.0" fill="url(#barv)" stroke="#060638" stroke-width="1.6"/>
<rect x="225.8" y="1471.7" width="2.2" height="11.0" fill="url(#barv)" stroke="#060638" stroke-width="1.6"/>
<rect x="223.0" y="1482.7" width="5.0" height="11.0" fill="url(#barv)" stroke="#060638" stroke-width="1.6"/>
<rect x="219.0" y="1493.7" width="9.0" height="11.0" fill="url(#barv)" stroke="#060638" stroke-width="1.6"/>
<rect x="210.0" y="1504.7" width="18.0" height="11.0" fill="url(#barv)" stroke="#060638" stroke-width="1.6"/>
<rect x="182.0" y="1515.8" width="46.0" height="11.0" fill="url(#barv)" stroke="#060638" stroke-width="1.6"/>
<rect x="158.0" y="1526.8" width="70.0" height="11.0" fill="url(#barv)" stroke="#060638" stroke-width="1.6"/>
<rect x="147.0" y="1537.8" width="81.0" height="11.0" fill="url(#barv)" stroke="#060638" stroke-width="1.6"/>
<rect x="127.5" y="1548.8" width="100.5" height="11.0" fill="url(#barv)" stroke="#060638" stroke-width="1.6"/>
<rect x="123.0" y="1559.8" width="105.0" height="11.0" fill="url(#barv)" stroke="#060638" stroke-width="1.6"/>
<rect x="106.0" y="1570.9" width="122.0" height="11.0" fill="url(#barv)" stroke="#060638" stroke-width="1.6"/>
<rect x="136.4" y="1581.9" width="91.6" height="11.0" fill="url(#barv)" stroke="#060638" stroke-width="1.6"/>
<rect x="186.2" y="1592.9" width="41.8" height="11.0" fill="url(#barv)" stroke="#060638" stroke-width="1.6"/>
<rect x="223.5" y="1603.9" width="4.5" height="11.0" fill="url(#barv)" stroke="#060638" stroke-width="1.6"/>
<rect x="92.4" y="1372.5" width="135.6" height="551.0" fill="none" stroke="#2a2a2a" stroke-width="2.4"/>
<text transform="translate(78,1382) rotate(-90)" font-size="26" fill="#2a2a60" text-anchor="middle">1.7</text>
<line x1="86.5" y1="1372.5" x2="92.4" y2="1372.5" stroke="#333" stroke-width="2"/>
<text transform="translate(78,1441.38) rotate(-90)" font-size="26" fill="#2a2a60" text-anchor="middle">1.9</text>
<line x1="86.5" y1="1441.38" x2="92.4" y2="1441.38" stroke="#333" stroke-width="2"/>
<text transform="translate(78,1510.25) rotate(-90)" font-size="26" fill="#2a2a60" text-anchor="middle">2.1</text>
<line x1="86.5" y1="1510.25" x2="92.4" y2="1510.25" stroke="#333" stroke-width="2"/>
<text transform="translate(78,1579.12) rotate(-90)" font-size="26" fill="#2a2a60" text-anchor="middle">2.3</text>
<line x1="86.5" y1="1579.12" x2="92.4" y2="1579.12" stroke="#333" stroke-width="2"/>
<text transform="translate(78,1648) rotate(-90)" font-size="26" fill="#2a2a60" text-anchor="middle">2.5</text>
<line x1="86.5" y1="1648" x2="92.4" y2="1648" stroke="#333" stroke-width="2"/>
<text transform="translate(78,1716.88) rotate(-90)" font-size="26" fill="#2a2a60" text-anchor="middle">2.7</text>
<line x1="86.5" y1="1716.88" x2="92.4" y2="1716.88" stroke="#333" stroke-width="2"/>
<text transform="translate(78,1785.75) rotate(-90)" font-size="26" fill="#2a2a60" text-anchor="middle">2.9</text>
<line x1="86.5" y1="1785.75" x2="92.4" y2="1785.75" stroke="#333" stroke-width="2"/>
<text transform="translate(78,1854.62) rotate(-90)" font-size="26" fill="#2a2a60" text-anchor="middle">3.1</text>
<line x1="86.5" y1="1854.62" x2="92.4" y2="1854.62" stroke="#333" stroke-width="2"/>
<text transform="translate(78,1904) rotate(-90)" font-size="26" fill="#2a2a60" text-anchor="middle">3.3</text>
<line x1="86.5" y1="1923.5" x2="92.4" y2="1923.5" stroke="#333" stroke-width="2"/>
<text transform="translate(39.5,1656.4) rotate(-90)" font-size="26" fill="#3535a5" text-anchor="middle" textLength="171" lengthAdjust="spacingAndGlyphs">ROHB (G/C3)</text>
<text transform="translate(139,1909) rotate(-90)" font-size="24" fill="#cdcdcd">2000</text>
<text transform="translate(198,1909) rotate(-90)" font-size="24" fill="#cdcdcd">1000</text>
<rect x="246.7" y="1372.5" width="1711.3" height="551.0" fill="#fff"/>
<line x1="246.7" y1="1441.38" x2="1958" y2="1441.38" stroke="#c0c0c0" stroke-width="1.8"/>
<line x1="246.7" y1="1510.25" x2="1958" y2="1510.25" stroke="#c0c0c0" stroke-width="1.8"/>
<line x1="246.7" y1="1579.12" x2="1958" y2="1579.12" stroke="#c0c0c0" stroke-width="1.8"/>
<line x1="246.7" y1="1648" x2="1958" y2="1648" stroke="#c0c0c0" stroke-width="1.8"/>
<line x1="246.7" y1="1716.88" x2="1958" y2="1716.88" stroke="#c0c0c0" stroke-width="1.8"/>
<line x1="246.7" y1="1785.75" x2="1958" y2="1785.75" stroke="#c0c0c0" stroke-width="1.8"/>
<line x1="246.7" y1="1854.62" x2="1958" y2="1854.62" stroke="#c0c0c0" stroke-width="1.8"/>
<line x1="460.6" y1="1372.5" x2="460.6" y2="1923.5" stroke="#c0c0c0" stroke-width="1.8"/>
<line x1="674.5" y1="1372.5" x2="674.5" y2="1923.5" stroke="#c0c0c0" stroke-width="1.8"/>
<line x1="888.4" y1="1372.5" x2="888.4" y2="1923.5" stroke="#c0c0c0" stroke-width="1.8"/>
<line x1="1102.3" y1="1372.5" x2="1102.3" y2="1923.5" stroke="#c0c0c0" stroke-width="1.8"/>
<line x1="1316.2" y1="1372.5" x2="1316.2" y2="1923.5" stroke="#c0c0c0" stroke-width="1.8"/>
<line x1="1530.1" y1="1372.5" x2="1530.1" y2="1923.5" stroke="#c0c0c0" stroke-width="1.8"/>
<line x1="1744" y1="1372.5" x2="1744" y2="1923.5" stroke="#c0c0c0" stroke-width="1.8"/>
</g>
<polyline points="617.5,1697.1 682.7,1671.3 752.4,1641.1 819.6,1610.4 895,1584.1 1040,1536 1327,1443" fill="none" stroke="#16167e" stroke-width="3.6"/>
<line x1="613.5" y1="1686.9" x2="621.5" y2="1707.3" stroke="#16167e" stroke-width="3.4"/>
<line x1="678.7" y1="1661.1" x2="686.7" y2="1681.5" stroke="#16167e" stroke-width="3.4"/>
<line x1="748.0" y1="1631.0" x2="756.8" y2="1651.2" stroke="#16167e" stroke-width="3.4"/>
<line x1="815.0" y1="1600.4" x2="824.2" y2="1620.4" stroke="#16167e" stroke-width="3.4"/>
<line x1="891.4" y1="1573.7" x2="898.6" y2="1594.5" stroke="#16167e" stroke-width="3.4"/>
<line x1="961.5" y1="1550.4" x2="968.5" y2="1571.3" stroke="#16167e" stroke-width="3.4"/>
<line x1="1036.5" y1="1525.6" x2="1043.5" y2="1546.4" stroke="#16167e" stroke-width="3.4"/>
<line x1="1106.6" y1="1502.9" x2="1113.4" y2="1523.8" stroke="#16167e" stroke-width="3.4"/>
<line x1="1176.6" y1="1480.2" x2="1183.4" y2="1501.1" stroke="#16167e" stroke-width="3.4"/>
<line x1="1251.6" y1="1455.9" x2="1258.4" y2="1476.8" stroke="#16167e" stroke-width="3.4"/>
<line x1="1323.6" y1="1432.5" x2="1330.4" y2="1453.5" stroke="#16167e" stroke-width="3.4"/>
<text x="633" y="1718.8" font-family="'Liberation Sans',sans-serif" font-size="26" fill="#2a2a90" text-anchor="middle">0</text>
<text x="779" y="1663.5" font-family="'Liberation Sans',sans-serif" font-size="26" fill="#2a2a90" text-anchor="middle">10</text>
<text x="918" y="1610.1" font-family="'Liberation Sans',sans-serif" font-size="26" fill="#2a2a90" text-anchor="middle">20</text>
<text x="1335" y="1498.5" font-family="'Liberation Sans',sans-serif" font-size="26" fill="#2a2a90" text-anchor="middle">40</text>
<polyline points="649.1,1719 732.9,1692.2 814.7,1663 896,1632.8 981.3,1600.7 1150,1538 1390,1453.8" fill="none" stroke="#16167e" stroke-width="3.6"/>
<line x1="645.7" y1="1708.5" x2="652.5" y2="1729.5" stroke="#16167e" stroke-width="3.4"/>
<line x1="729.5" y1="1681.7" x2="736.3" y2="1702.7" stroke="#16167e" stroke-width="3.4"/>
<line x1="811.0" y1="1652.6" x2="818.4" y2="1673.4" stroke="#16167e" stroke-width="3.4"/>
<line x1="892.2" y1="1622.5" x2="899.8" y2="1643.1" stroke="#16167e" stroke-width="3.4"/>
<line x1="977.4" y1="1590.4" x2="985.2" y2="1611.0" stroke="#16167e" stroke-width="3.4"/>
<line x1="1061.2" y1="1559.3" x2="1068.8" y2="1579.9" stroke="#16167e" stroke-width="3.4"/>
<line x1="1146.2" y1="1527.7" x2="1153.8" y2="1548.3" stroke="#16167e" stroke-width="3.4"/>
<line x1="1226.4" y1="1499.6" x2="1233.6" y2="1520.3" stroke="#16167e" stroke-width="3.4"/>
<line x1="1306.4" y1="1471.5" x2="1313.6" y2="1492.2" stroke="#16167e" stroke-width="3.4"/>
<line x1="1386.4" y1="1443.4" x2="1393.6" y2="1464.2" stroke="#16167e" stroke-width="3.4"/>
<text x="664.7" y="1741.5" font-family="'Liberation Sans',sans-serif" font-size="26" fill="#2a2a90" text-anchor="middle">0</text>
<text x="840" y="1683.2" font-family="'Liberation Sans',sans-serif" font-size="26" fill="#2a2a90" text-anchor="middle">10</text>
<text x="1000.8" y="1622.8" font-family="'Liberation Sans',sans-serif" font-size="26" fill="#2a2a90" text-anchor="middle">20</text>
<polyline points="657.4,1775 741.2,1744.8 833.7,1711.7 925.3,1681 1017.8,1646 1105.5,1614.3 1300,1545 1450,1500" fill="none" stroke="#16167e" stroke-width="3.6"/>
<line x1="653.7" y1="1764.7" x2="661.1" y2="1785.3" stroke="#16167e" stroke-width="3.4"/>
<line x1="737.5" y1="1734.5" x2="744.9" y2="1755.1" stroke="#16167e" stroke-width="3.4"/>
<line x1="830.0" y1="1701.3" x2="837.4" y2="1722.1" stroke="#16167e" stroke-width="3.4"/>
<line x1="921.8" y1="1670.6" x2="928.8" y2="1691.4" stroke="#16167e" stroke-width="3.4"/>
<line x1="1013.9" y1="1635.7" x2="1021.7" y2="1656.3" stroke="#16167e" stroke-width="3.4"/>
<line x1="1101.8" y1="1604.0" x2="1109.2" y2="1624.6" stroke="#16167e" stroke-width="3.4"/>
<text x="674.4" y="1795.7" font-family="'Liberation Sans',sans-serif" font-size="26" fill="#2a2a90" text-anchor="middle">0</text>
<text x="858" y="1731.9" font-family="'Liberation Sans',sans-serif" font-size="26" fill="#2a2a90" text-anchor="middle">10</text>
<text x="1042" y="1667.5" font-family="'Liberation Sans',sans-serif" font-size="26" fill="#2a2a90" text-anchor="middle">20</text>
<text x="585.3" y="1728.5" font-family="'Liberation Sans',sans-serif" font-size="26" fill="#2a2a90" text-anchor="middle">SS</text>
<text x="619.4" y="1749.5" font-family="'Liberation Sans',sans-serif" font-size="26" fill="#2a2a90" text-anchor="middle">LS</text>
<text x="615" y="1804.0" font-family="'Liberation Sans',sans-serif" font-size="26" fill="#2a2a90" text-anchor="middle">DOL</text>
<path d="M1100 1415h0M1112 1406h0M1137 1400h0M1150 1404h0M1156 1414h0M1130 1421h0M1173 1422h0M1184 1429h0M1225 1434h0M1233 1433h0M1244 1432h0M1341 1431h0M1348 1445h0M1357 1454h0M1299 1456h0M1219 1467h0M1241 1464h0M1579 1402h0M1600 1418h0M1621 1394h0M1621 1400h0M1621 1406h0M1621 1412h0M1580 1430h0M1416 1429h0M1466 1436h0M1496 1430h0M1523 1437h0M1669 1439h0M1566 1453h0M1572 1450h0M1626 1458h0M796 1586h0M1010 1545h0M873 1555h0M1033 1500h0M910 1510h0M873 1510h0" stroke="#00ffff" stroke-width="13.4" stroke-linecap="round" fill="none"/>
<path d="M799 1421h0M848 1489h0M840 1466h0M770 1466h0M930 1501h0M922 1501h0M796 1480h0M822 1434h0M899 1498h0M827 1450h0M891 1477h0M778 1465h0M891 1477h0M779 1454h0M780 1450h0M780 1447h0M904 1506h0M904 1473h0M874 1454h0M797 1461h0M820 1486h0M894 1509h0M837 1453h0M907 1492h0M880 1497h0M825 1490h0M873 1454h0M847 1426h0M846 1479h0M895 1459h0M831 1435h0M905 1499h0M894 1503h0M879 1486h0M801 1493h0M825 1461h0M823 1474h0M881 1474h0M823 1440h0M913 1448h0M843 1428h0M820 1427h0M827 1487h0M936 1479h0M814 1482h0M876 1498h0M839 1446h0M893 1466h0M854 1481h0M845 1472h0M864 1454h0M861 1441h0M891 1469h0M855 1432h0M830 1423h0M863 1490h0M808 1487h0M900 1463h0M829 1424h0M874 1449h0M830 1443h0M889 1507h0" stroke="#00ffff" stroke-width="13.4" stroke-linecap="round" fill="none"/>
<path d="M968 1499h0M952 1462h0M1018 1459h0M1028 1506h0M972 1462h0M939 1483h0M1019 1483h0M1008 1485h0M1047 1480h0M1042 1466h0M948 1457h0M1030 1508h0M1001 1451h0M1011 1468h0M960 1476h0M994 1454h0M979 1490h0M991 1444h0M984 1471h0M1045 1511h0M1029 1473h0M1007 1484h0M987 1459h0M973 1488h0M967 1466h0M976 1464h0M1038 1481h0M995 1498h0" stroke="#00ffff" stroke-width="13.4" stroke-linecap="round" fill="none"/>
<path d="M779 1625h0M833 1613h0M836 1608h0M755 1645h0M783 1632h0M735 1657h0M815 1618h0M784 1639h0M729 1673h0M798 1624h0M766 1648h0M727 1676h0M853 1610h0M775 1636h0M806 1633h0M838 1606h0" stroke="#00ffff" stroke-width="13.4" stroke-linecap="round" fill="none"/>
<path d="M1077 1548h0M1062 1547h0M954 1600h0M1044 1523h0M1035 1522h0M999 1562h0M1038 1511h0M961 1548h0M1020 1590h0M1032 1585h0M993 1520h0M992 1567h0M1081 1525h0M1056 1579h0M1032 1547h0M991 1567h0M1022 1542h0M1067 1506h0M1089 1571h0M1003 1573h0M1049 1574h0M976 1538h0M971 1548h0M1099 1520h0M996 1587h0M1027 1581h0M1084 1527h0M1101 1546h0M1006 1585h0M1046 1583h0M951 1563h0M1025 1599h0M962 1586h0M1004 1590h0M977 1550h0M1013 1552h0M1007 1585h0M962 1553h0M949 1591h0M1048 1521h0M1096 1531h0M1043 1580h0M1004 1538h0M983 1528h0M992 1603h0M1010 1548h0M973 1593h0M1089 1518h0M998 1561h0M1027 1521h0M936 1584h0M949 1542h0M1066 1572h0M1001 1584h0M1089 1555h0M997 1604h0M1068 1514h0M1025 1540h0M1017 1579h0M987 1563h0M969 1547h0M992 1529h0M1037 1550h0M1095 1525h0M960 1547h0M1057 1543h0M945 1581h0M1015 1519h0M979 1585h0M1093 1544h0M1083 1560h0M959 1600h0M1038 1586h0M1105 1550h0M965 1570h0M995 1585h0M982 1570h0M1087 1550h0M1081 1544h0M1018 1534h0M961 1594h0M1036 1528h0M1025 1543h0M932 1573h0M1086 1564h0M952 1544h0M979 1594h0M1097 1511h0M1001 1559h0M1086 1530h0M970 1586h0M1081 1506h0M935 1565h0M964 1535h0M1070 1545h0M1060 1530h0M1080 1513h0M1021 1572h0M1016 1565h0M1017 1578h0M1037 1518h0M1008 1571h0M957 1571h0M1054 1517h0M1099 1541h0M989 1571h0M1015 1565h0M1080 1521h0M1011 1567h0M1052 1505h0M1087 1512h0M1038 1557h0M990 1541h0M1011 1538h0M991 1588h0M1052 1596h0M1061 1587h0M1073 1561h0M1054 1508h0M996 1584h0M1041 1547h0M1048 1558h0M1034 1595h0M1098 1531h0M1089 1555h0M1044 1511h0M999 1600h0M1099 1544h0M971 1601h0M1018 1600h0M932 1562h0M1015 1600h0M1010 1522h0M1054 1592h0M1066 1526h0M1069 1582h0M1010 1579h0M997 1597h0M1054 1570h0M1077 1576h0M937 1594h0M1066 1523h0M1035 1547h0M989 1566h0M1022 1547h0M1059 1519h0M1023 1517h0M1072 1522h0M1068 1547h0M1064 1538h0M1104 1553h0M1000 1544h0M981 1571h0M1103 1522h0M1075 1509h0M1035 1511h0M992 1535h0M976 1580h0M1065 1583h0M1032 1579h0M1005 1533h0M1075 1542h0M950 1600h0M949 1581h0M964 1590h0M1037 1588h0M1017 1593h0M1001 1597h0M1045 1597h0M1092 1528h0M1026 1544h0M1016 1540h0M1089 1534h0M1001 1603h0M1091 1556h0M1021 1565h0M1062 1506h0M1011 1535h0M1023 1553h0M1059 1593h0M1045 1530h0M1006 1520h0M1098 1526h0M990 1568h0M1061 1547h0M950 1543h0M1076 1529h0M1001 1529h0M993 1535h0M1014 1587h0M1076 1518h0M969 1536h0M1051 1577h0M1061 1523h0M1034 1580h0M963 1565h0M979 1551h0M1007 1590h0M992 1578h0M982 1564h0M1083 1524h0M1002 1603h0M1036 1539h0M951 1591h0M946 1598h0M1069 1569h0M997 1587h0M1032 1554h0M1050 1515h0M1055 1546h0M949 1559h0M971 1541h0M1015 1551h0M969 1535h0M942 1560h0M1058 1555h0M986 1535h0M1107 1511h0M1034 1556h0M1100 1521h0M985 1543h0M967 1572h0M999 1542h0M1055 1542h0M1049 1588h0M1058 1593h0M1069 1577h0M986 1553h0M942 1544h0M1043 1523h0M1032 1535h0M968 1538h0M1035 1549h0M1007 1581h0M1044 1561h0M1046 1590h0M1061 1547h0M1080 1575h0M1021 1564h0M1019 1561h0M1071 1510h0M1058 1583h0M969 1559h0M1001 1516h0M1060 1564h0M1016 1541h0M944 1562h0M932 1580h0M1062 1501h0M1044 1532h0M979 1590h0M1102 1509h0M1037 1527h0M967 1535h0M1057 1544h0M1094 1556h0M972 1566h0M981 1600h0M1029 1541h0M977 1556h0M1023 1590h0M934 1564h0M1003 1532h0M999 1599h0M1023 1541h0M1085 1514h0M978 1539h0M967 1545h0M950 1564h0M1012 1573h0M1010 1542h0M1017 1539h0M995 1584h0M1102 1536h0M944 1586h0M1028 1595h0M997 1544h0M1022 1566h0M1021 1526h0M1028 1599h0M1028 1546h0M987 1597h0M989 1596h0M1086 1537h0M1029 1540h0M1086 1572h0M1052 1564h0M1041 1574h0M1086 1531h0M1000 1558h0M1073 1580h0M1068 1555h0M1047 1514h0M1035 1597h0M949 1573h0M1002 1574h0M1101 1557h0M1094 1545h0M1059 1556h0M1085 1516h0M1065 1589h0M1058 1517h0M1044 1587h0M1036 1545h0M1101 1531h0M1005 1567h0M1062 1544h0M1010 1530h0M941 1575h0M1086 1535h0M1005 1600h0M977 1541h0M1001 1563h0M996 1597h0M1069 1529h0M940 1594h0M1064 1538h0M1048 1519h0M989 1575h0M1027 1565h0M1027 1545h0M1013 1572h0M1108 1524h0M1099 1533h0M1021 1531h0M985 1587h0M1034 1557h0M1007 1546h0M1068 1522h0M951 1569h0" stroke="#00ffff" stroke-width="13.4" stroke-linecap="round" fill="none"/>
<path d="M1213 1484h0M1250 1514h0M1430 1490h0M1082 1520h0M1320 1522h0M1233 1528h0M1458 1511h0M1225 1508h0M1475 1507h0M1243 1524h0M1326 1478h0M1378 1498h0M1091 1533h0M1213 1523h0M1399 1511h0M1399 1520h0M1486 1491h0M1440 1499h0M1461 1512h0M1182 1492h0M1351 1524h0M1233 1489h0M1090 1528h0M1164 1524h0M1379 1492h0M1157 1522h0M1498 1513h0M1179 1522h0M1340 1525h0M1303 1517h0M1105 1528h0M1294 1477h0M1469 1502h0M1105 1507h0M1232 1526h0M1412 1506h0M1228 1520h0M1429 1501h0M1368 1524h0M1238 1506h0M1163 1499h0M1428 1511h0M1350 1530h0M1428 1496h0M1194 1505h0M1496 1496h0M1321 1476h0M1265 1522h0M1217 1481h0M1239 1479h0M1397 1486h0M1474 1496h0M1280 1481h0M1437 1521h0M1424 1480h0M1240 1497h0M1361 1473h0M1307 1498h0M1497 1504h0M1463 1481h0M1077 1527h0M1269 1475h0M1322 1507h0M1188 1529h0M1436 1499h0M1468 1496h0M1328 1479h0M1466 1495h0M1182 1508h0M1318 1520h0M1104 1517h0M1253 1502h0M1455 1478h0M1457 1485h0M1141 1517h0M1084 1516h0M1276 1498h0M1431 1494h0M1284 1487h0M1433 1523h0M1405 1471h0M1264 1502h0M1142 1512h0M1404 1495h0M1399 1491h0M1259 1489h0M1362 1529h0M1261 1523h0M1448 1479h0M1324 1495h0M1386 1489h0M1351 1516h0M1099 1509h0M1304 1493h0M1394 1500h0M1462 1488h0M1427 1479h0M1263 1492h0M1436 1499h0M1147 1507h0M1314 1520h0M1169 1534h0M1205 1518h0M1287 1501h0M1326 1478h0M1242 1490h0M1300 1482h0M1380 1493h0M1092 1535h0M1407 1519h0M1438 1478h0M1182 1519h0M1133 1534h0M1279 1526h0M1325 1506h0M1240 1514h0M1252 1525h0M1320 1479h0M1409 1491h0M1252 1503h0M1194 1488h0M1145 1528h0M1345 1480h0M1289 1531h0M1340 1524h0M1497 1502h0M1461 1507h0M1209 1517h0M1275 1478h0M1444 1514h0M1416 1523h0M1352 1478h0M1390 1477h0M1192 1522h0M1337 1502h0M1214 1494h0M1202 1522h0M1296 1499h0M1274 1524h0M1469 1522h0M1223 1512h0M1232 1500h0M1490 1503h0M1365 1500h0M1348 1507h0M1384 1504h0M1420 1479h0M1092 1514h0M1332 1511h0M1421 1485h0M1469 1522h0M1186 1527h0M1463 1521h0M1309 1530h0M1300 1504h0M1382 1476h0M1268 1491h0M1299 1492h0M1492 1487h0M1106 1508h0M1468 1500h0M1243 1511h0M1250 1508h0M1330 1519h0M1393 1508h0M1103 1517h0M1271 1522h0M1235 1496h0M1381 1504h0M1223 1511h0M1135 1521h0M1230 1518h0M1334 1531h0M1487 1503h0M1420 1501h0M1090 1521h0M1225 1502h0M1347 1512h0M1410 1509h0M1163 1519h0M1120 1528h0M1264 1495h0M1467 1487h0M1232 1489h0M1244 1518h0M1333 1516h0M1370 1509h0M1381 1513h0M1454 1513h0M1504 1512h0M1404 1472h0M1422 1521h0M1261 1479h0M1387 1502h0M1306 1530h0M1418 1507h0M1333 1481h0M1327 1508h0M1378 1525h0M1259 1490h0M1502 1497h0M1236 1504h0M1373 1474h0M1393 1530h0M1480 1509h0M1246 1526h0M1209 1484h0M1131 1530h0M1242 1488h0M1426 1498h0M1464 1478h0M1224 1533h0M1324 1530h0M1453 1508h0M1178 1525h0M1453 1472h0M1218 1503h0M1403 1498h0M1204 1519h0M1423 1491h0M1289 1509h0M1480 1489h0M1346 1478h0M1235 1481h0M1409 1495h0M1370 1507h0M1253 1517h0M1166 1526h0M1414 1492h0M1302 1523h0M1428 1527h0M1444 1525h0M1372 1482h0M1170 1492h0M1484 1488h0M1364 1528h0M1113 1515h0M1114 1513h0M1328 1516h0M1458 1495h0M1245 1483h0M1468 1488h0M1418 1498h0M1327 1496h0M1455 1511h0M1432 1491h0M1418 1476h0M1330 1485h0M1200 1503h0M1182 1522h0M1434 1506h0M1359 1497h0M1137 1526h0M1241 1497h0M1215 1526h0M1420 1490h0M1251 1498h0M1280 1530h0M1376 1501h0M1421 1478h0M1307 1512h0M1216 1514h0M1376 1509h0M1475 1499h0M1423 1504h0M1111 1514h0M1495 1488h0M1216 1486h0M1210 1507h0M1404 1495h0M1175 1524h0M1462 1509h0M1307 1484h0M1471 1486h0M1271 1512h0M1477 1483h0M1465 1524h0M1145 1496h0M1476 1513h0M1304 1499h0M1273 1504h0M1437 1474h0M1326 1485h0M1444 1505h0M1428 1498h0M1331 1483h0M1269 1487h0M1241 1520h0M1496 1486h0M1430 1477h0M1344 1477h0M1226 1532h0M1324 1496h0M1453 1473h0M1290 1485h0M1485 1483h0M1455 1507h0M1254 1516h0M1299 1520h0M1078 1519h0M1158 1516h0M1130 1514h0M1174 1513h0M1415 1528h0M1102 1517h0M1381 1523h0M1413 1485h0M1342 1472h0M1213 1508h0M1237 1509h0M1347 1521h0M1328 1484h0M1358 1514h0M1380 1506h0M1170 1531h0M1241 1520h0M1388 1514h0M1391 1528h0M1504 1492h0M1280 1502h0M1160 1497h0M1245 1526h0M1453 1513h0M1213 1520h0M1308 1509h0M1174 1520h0M1310 1511h0M1270 1525h0M1315 1507h0M1360 1503h0M1391 1488h0M1406 1520h0M1376 1515h0M1411 1497h0M1260 1498h0M1238 1498h0M1472 1475h0M1226 1479h0M1190 1502h0M1263 1504h0M1261 1508h0M1124 1515h0M1187 1508h0M1223 1530h0M1444 1511h0M1485 1479h0M1227 1483h0M1473 1477h0M1479 1509h0M1157 1529h0M1429 1514h0M1342 1506h0M1357 1474h0M1233 1485h0M1411 1512h0M1426 1480h0M1495 1508h0M1102 1516h0M1271 1498h0M1292 1514h0M1191 1514h0M1309 1482h0M1315 1518h0M1455 1483h0M1403 1526h0M1123 1503h0M1229 1481h0M1148 1500h0M1327 1518h0M1437 1487h0M1295 1510h0M1453 1508h0M1241 1484h0M1407 1485h0M1310 1486h0M1401 1496h0M1185 1491h0M1115 1517h0M1473 1522h0M1260 1499h0M1493 1481h0M1262 1510h0M1153 1512h0M1126 1531h0M1272 1522h0M1240 1494h0M1460 1512h0M1309 1505h0M1279 1482h0M1323 1480h0M1216 1508h0M1395 1522h0M1280 1520h0M1501 1488h0M1505 1514h0M1306 1477h0M1081 1520h0M1373 1522h0M1260 1496h0M1359 1471h0M1143 1505h0M1368 1526h0M1241 1490h0M1167 1501h0M1508 1507h0M1444 1484h0M1260 1515h0M1152 1525h0M1342 1512h0M1129 1535h0M1275 1532h0M1215 1488h0M1357 1502h0M1369 1512h0M1380 1512h0M1236 1514h0M1421 1522h0M1419 1526h0M1087 1521h0M1293 1496h0M1354 1488h0M1213 1502h0M1144 1499h0M1210 1525h0M1370 1491h0M1125 1508h0M1337 1527h0M1107 1525h0M1325 1518h0M1386 1489h0M1370 1471h0M1275 1498h0M1354 1515h0M1309 1487h0M1133 1534h0M1430 1509h0M1224 1496h0M1115 1516h0M1219 1519h0M1172 1534h0M1376 1523h0M1421 1489h0M1330 1524h0M1472 1495h0M1394 1479h0M1239 1512h0M1323 1490h0M1096 1511h0M1117 1506h0M1176 1527h0M1460 1518h0M1095 1521h0M1228 1519h0M1379 1517h0M1209 1526h0M1364 1525h0M1249 1478h0M1332 1482h0M1349 1516h0M1192 1487h0M1222 1530h0M1498 1520h0M1230 1524h0M1209 1512h0M1317 1471h0M1383 1525h0M1119 1528h0M1186 1492h0M1343 1483h0M1199 1519h0M1396 1492h0M1210 1521h0M1136 1536h0M1200 1497h0M1350 1503h0M1190 1532h0M1272 1527h0M1349 1503h0M1099 1513h0M1371 1474h0M1200 1511h0M1213 1502h0M1190 1517h0M1371 1507h0M1331 1522h0M1314 1499h0M1452 1490h0M1248 1509h0M1256 1480h0M1258 1505h0M1246 1524h0M1323 1504h0M1429 1513h0M1262 1523h0M1131 1526h0M1120 1523h0M1184 1512h0M1427 1504h0M1240 1496h0M1162 1520h0M1406 1482h0M1115 1515h0M1431 1470h0M1168 1498h0M1428 1522h0M1286 1519h0M1077 1526h0M1335 1528h0M1343 1477h0M1460 1516h0M1477 1478h0M1468 1515h0M1364 1528h0M1399 1510h0M1100 1514h0M1294 1482h0M1190 1528h0M1236 1517h0M1116 1536h0M1363 1488h0M1177 1491h0M1482 1476h0M1324 1492h0M1217 1516h0M1251 1484h0M1145 1512h0M1302 1514h0M1223 1526h0M1369 1510h0M1320 1473h0M1353 1527h0M1394 1470h0M1388 1529h0M1374 1475h0M1292 1493h0M1389 1518h0M1392 1474h0M1416 1470h0M1180 1532h0M1195 1494h0M1430 1471h0M1172 1493h0M1312 1496h0M1245 1489h0M1223 1498h0M1205 1503h0M1244 1509h0M1229 1480h0M1398 1515h0M1268 1509h0M1372 1521h0M1147 1498h0M1304 1507h0M1328 1496h0M1391 1529h0M1202 1525h0M1459 1501h0M1208 1492h0M1333 1489h0M1242 1477h0M1445 1485h0M1074 1514h0M1096 1528h0M1127 1516h0M1328 1521h0M1141 1525h0M1072 1519h0M1499 1506h0M1197 1531h0M1482 1498h0M1363 1513h0M1140 1502h0M1492 1509h0M1348 1471h0M1306 1499h0M1210 1532h0M1414 1486h0M1391 1527h0M1165 1529h0M1205 1519h0M1379 1510h0M1335 1476h0M1292 1487h0M1248 1494h0M1451 1507h0M1207 1532h0M1293 1473h0M1305 1507h0M1232 1486h0M1333 1485h0M1174 1499h0M1238 1479h0M1181 1518h0M1167 1498h0M1417 1496h0M1145 1519h0M1412 1493h0M1136 1532h0M1241 1525h0M1388 1478h0M1248 1481h0M1337 1474h0M1127 1531h0M1380 1502h0M1246 1533h0M1462 1516h0M1400 1509h0M1164 1523h0M1135 1511h0M1269 1506h0M1493 1500h0M1387 1469h0M1205 1515h0M1262 1529h0M1365 1501h0M1374 1527h0M1462 1482h0M1379 1502h0M1109 1514h0M1437 1482h0" stroke="#00ffff" stroke-width="13.4" stroke-linecap="round" fill="none"/>
<path d="M1558 1480h0M1581 1500h0M1592 1514h0M1501 1484h0M1682 1534h0M1605 1518h0M1528 1514h0M1683 1511h0M1640 1482h0M1615 1526h0M1547 1507h0M1596 1508h0M1557 1487h0M1534 1487h0M1514 1510h0M1517 1524h0M1679 1467h0M1526 1499h0M1664 1527h0M1554 1495h0M1652 1469h0M1549 1505h0M1638 1476h0M1584 1529h0M1533 1469h0M1647 1511h0M1568 1474h0M1675 1531h0M1517 1476h0M1647 1510h0M1559 1489h0M1662 1533h0M1630 1517h0M1609 1466h0M1581 1535h0M1598 1487h0M1652 1539h0M1554 1517h0M1581 1529h0M1598 1485h0M1615 1493h0M1630 1508h0M1597 1483h0M1616 1516h0M1634 1534h0M1646 1519h0M1580 1509h0M1504 1474h0M1560 1478h0M1670 1522h0M1500 1508h0M1639 1517h0M1569 1470h0M1612 1504h0M1520 1475h0M1629 1471h0M1505 1509h0M1587 1536h0M1605 1465h0M1517 1518h0M1642 1489h0M1650 1487h0M1519 1497h0M1568 1496h0M1645 1528h0M1535 1493h0M1603 1466h0M1563 1525h0M1596 1485h0M1530 1490h0" stroke="#00ffff" stroke-width="13.4" stroke-linecap="round" fill="none"/>
<path d="M1453 1456h0M1355 1467h0M1388 1455h0M1588 1450h0M1327 1461h0M1621 1472h0M1477 1447h0M1391 1453h0M1417 1453h0M1363 1463h0M1658 1458h0M1579 1462h0M1520 1461h0M1662 1471h0M1275 1461h0M1518 1466h0M1478 1469h0M1500 1452h0M1394 1452h0M1660 1467h0M1372 1457h0M1507 1453h0M1349 1455h0M1601 1468h0M1427 1469h0M1353 1464h0M1593 1469h0M1493 1465h0M1683 1459h0M1268 1461h0M1401 1452h0M1594 1455h0M1412 1455h0M1365 1459h0M1405 1463h0M1443 1462h0M1287 1469h0M1640 1465h0M1503 1458h0M1669 1466h0M1362 1466h0M1473 1451h0M1328 1457h0M1470 1447h0M1281 1465h0M1456 1463h0M1662 1453h0M1641 1458h0M1620 1450h0M1534 1461h0M1621 1458h0M1497 1462h0M1605 1471h0M1374 1449h0M1443 1461h0" stroke="#00ffff" stroke-width="13.4" stroke-linecap="round" fill="none"/>
<path d="M994 1448h0M1009 1482h0M1041 1499h0M1103 1492h0M995 1462h0M1048 1497h0M1028 1483h0M972 1448h0M1054 1502h0M1012 1500h0M1032 1498h0M991 1478h0M1108 1506h0M1033 1498h0M1023 1476h0M1013 1466h0M1041 1478h0M1060 1495h0M1046 1485h0M1035 1481h0M1032 1504h0M976 1458h0M1072 1507h0M984 1482h0M971 1465h0M1074 1488h0M990 1460h0M1038 1503h0M1084 1497h0M1017 1492h0M1059 1508h0M976 1459h0M1104 1499h0M975 1464h0M976 1458h0M1007 1501h0M1008 1459h0M988 1464h0M996 1474h0M987 1461h0M1098 1491h0M1050 1485h0M1042 1506h0M987 1471h0M1046 1504h0M993 1485h0M1010 1492h0M990 1459h0M1022 1497h0M983 1462h0" stroke="#ff00ff" stroke-width="13.4" stroke-linecap="round" fill="none"/>
<path d="M1201 1532h0M1403 1551h0M1274 1570h0M1409 1597h0M1453 1577h0M1209 1593h0M1337 1526h0M1473 1536h0M1281 1519h0M1150 1537h0M1059 1580h0M1095 1560h0M1576 1588h0M1133 1513h0M1492 1532h0M1282 1512h0M1101 1620h0M1245 1587h0M1514 1564h0M1324 1595h0M1497 1548h0M1397 1530h0M1350 1530h0M1417 1577h0M1386 1594h0M1353 1583h0M1320 1529h0M1622 1522h0M1295 1603h0M1650 1516h0M1182 1572h0M1195 1549h0M1084 1525h0M1330 1521h0M1473 1571h0M1185 1586h0M1262 1550h0M1122 1561h0M1147 1557h0M1656 1515h0M1345 1595h0M1347 1573h0M1528 1577h0M1609 1567h0M1584 1567h0M1499 1566h0M1455 1541h0M1170 1510h0M1188 1520h0M1230 1606h0M1582 1537h0M1346 1518h0M1274 1597h0M1283 1589h0M1469 1539h0M1458 1551h0M1326 1592h0M1289 1537h0M1318 1600h0M1591 1539h0M1127 1594h0M1264 1564h0M1432 1545h0M1176 1545h0M1456 1569h0M1491 1566h0M1397 1588h0M1620 1530h0M1143 1531h0M1352 1527h0M1175 1578h0M1537 1542h0M1510 1523h0M1288 1556h0M1339 1598h0M1458 1517h0M1480 1579h0M1331 1514h0M1634 1544h0M1439 1544h0M1422 1531h0M1137 1533h0M1191 1580h0M1228 1611h0M1461 1541h0M1457 1531h0M1175 1524h0M1640 1517h0M1412 1601h0M1621 1552h0M1526 1556h0M1080 1604h0M1540 1525h0M1567 1533h0M1140 1520h0M1071 1595h0M1116 1616h0M1340 1517h0M1212 1581h0M1630 1535h0M1204 1522h0M1307 1543h0M1370 1555h0M1168 1586h0M1423 1528h0M1478 1559h0M1311 1573h0M1373 1532h0M1504 1555h0M1569 1580h0M1651 1524h0M1352 1522h0M1130 1521h0M1643 1512h0M1147 1550h0M1238 1556h0M1134 1564h0M1151 1545h0M1556 1537h0M1067 1591h0M1372 1557h0M1359 1540h0M1362 1530h0M1443 1584h0M1140 1518h0M1147 1607h0M1348 1602h0M1150 1559h0M1623 1562h0M1245 1566h0M1181 1581h0M1154 1588h0M1630 1511h0M1343 1598h0M1253 1580h0M1472 1509h0M1306 1536h0M1221 1565h0M1558 1539h0M1119 1543h0M1344 1562h0M1601 1574h0M1653 1536h0M1327 1576h0M1474 1572h0M1497 1563h0M1124 1539h0M1407 1544h0M1624 1581h0M1215 1563h0M1367 1573h0M1222 1568h0M1313 1548h0M1393 1598h0M1083 1577h0M1678 1524h0M1614 1579h0M1181 1558h0M1077 1553h0M1489 1541h0M1337 1512h0M1192 1552h0M1233 1576h0M1077 1558h0M1135 1563h0M1507 1585h0M1202 1603h0M1432 1557h0M1109 1609h0M1332 1553h0M1438 1528h0M1441 1536h0M1393 1553h0M1611 1577h0M1630 1550h0M1606 1532h0M1253 1604h0M1409 1511h0M1637 1579h0M1154 1582h0M1060 1583h0M1460 1583h0M1275 1577h0M1271 1589h0M1069 1580h0M1566 1513h0M1435 1585h0M1177 1545h0M1537 1567h0M1347 1589h0M1664 1541h0M1426 1550h0M1076 1582h0M1317 1596h0M1450 1578h0M1664 1539h0M1250 1538h0M1143 1570h0M1338 1563h0M1309 1564h0M1329 1549h0M1232 1584h0M1498 1572h0M1187 1514h0M1087 1617h0M1308 1530h0M1407 1541h0M1564 1577h0M1665 1545h0M1444 1521h0M1073 1531h0M1337 1517h0M1057 1546h0M1120 1557h0M1165 1599h0M1637 1545h0M1263 1602h0M1601 1539h0M1114 1521h0M1522 1560h0M1490 1535h0M1197 1569h0M1316 1518h0M1217 1511h0M1273 1571h0M1497 1510h0M1381 1584h0M1612 1532h0M1348 1591h0M1493 1572h0M1345 1515h0M1551 1535h0M1106 1534h0M1606 1571h0M1547 1573h0M1355 1587h0M1436 1580h0M1290 1565h0M1502 1532h0M1422 1551h0M1436 1518h0M1074 1591h0M1227 1523h0M1162 1570h0M1123 1540h0M1194 1587h0M1410 1574h0M1275 1547h0M1495 1516h0M1643 1523h0M1264 1540h0M1122 1608h0M1148 1543h0M1357 1579h0M1473 1597h0M1233 1548h0M1562 1521h0M1671 1542h0M1591 1551h0M1192 1531h0M1490 1568h0M1480 1574h0M1579 1550h0M1435 1567h0M1573 1522h0M1206 1542h0M1153 1510h0M1527 1542h0M1148 1513h0M1411 1581h0M1450 1576h0M1418 1573h0M1205 1512h0M1285 1532h0M1180 1530h0M1366 1598h0M1191 1584h0M1113 1515h0M1132 1593h0M1545 1569h0M1186 1511h0M1425 1573h0M1241 1606h0M1397 1594h0M1545 1531h0M1185 1525h0M1247 1538h0M1315 1568h0M1358 1524h0M1545 1580h0M1125 1520h0M1255 1566h0M1215 1544h0M1542 1513h0M1067 1569h0M1347 1543h0M1226 1587h0M1261 1551h0M1442 1512h0M1384 1543h0M1441 1558h0M1485 1514h0M1660 1533h0M1416 1546h0M1550 1510h0M1079 1560h0M1340 1602h0M1550 1552h0M1561 1528h0M1205 1545h0M1409 1599h0M1511 1594h0M1092 1612h0M1176 1529h0M1272 1568h0M1136 1560h0M1147 1562h0M1459 1599h0M1533 1528h0M1334 1555h0M1518 1574h0M1113 1530h0M1646 1559h0M1535 1568h0M1227 1556h0M1394 1514h0M1170 1596h0M1268 1579h0M1139 1573h0M1153 1534h0M1480 1579h0M1357 1549h0M1134 1579h0M1541 1511h0M1199 1516h0M1203 1595h0M1090 1569h0M1558 1517h0M1391 1574h0M1539 1544h0M1268 1533h0M1243 1603h0M1593 1513h0M1410 1563h0M1296 1522h0M1548 1510h0M1398 1527h0M1412 1568h0M1086 1531h0M1448 1597h0M1589 1566h0M1653 1564h0M1452 1534h0M1330 1527h0M1312 1548h0M1409 1595h0M1511 1546h0M1371 1543h0M1464 1532h0M1130 1540h0M1393 1586h0M1132 1576h0M1501 1532h0M1597 1556h0M1211 1604h0M1584 1553h0M1511 1592h0M1460 1517h0M1437 1561h0M1495 1511h0M1110 1553h0M1210 1606h0M1087 1587h0M1313 1559h0M1388 1524h0M1282 1597h0M1144 1568h0M1493 1575h0M1369 1517h0M1348 1584h0M1369 1515h0M1186 1610h0M1604 1563h0M1515 1543h0M1565 1541h0M1390 1605h0M1171 1549h0M1449 1536h0M1370 1537h0M1590 1546h0M1058 1539h0M1548 1550h0M1482 1563h0M1585 1514h0M1156 1528h0M1503 1543h0M1588 1546h0M1195 1555h0M1464 1585h0M1071 1611h0M1596 1546h0M1412 1545h0M1555 1519h0M1527 1514h0M1109 1542h0M1625 1530h0M1292 1514h0M1065 1583h0M1073 1604h0M1500 1560h0M1402 1525h0M1459 1528h0M1568 1538h0M1462 1599h0M1365 1561h0M1118 1593h0M1321 1558h0M1505 1553h0M1077 1595h0M1514 1543h0M1533 1533h0M1155 1584h0M1212 1532h0M1100 1531h0M1226 1574h0M1099 1556h0M1307 1581h0M1149 1514h0M1462 1589h0M1572 1516h0M1433 1554h0M1575 1526h0M1075 1527h0M1394 1558h0M1570 1550h0M1369 1558h0M1321 1520h0M1283 1587h0M1181 1557h0M1466 1576h0M1354 1561h0M1381 1513h0M1495 1526h0M1191 1562h0M1137 1560h0M1331 1529h0M1603 1536h0M1315 1555h0M1218 1610h0M1126 1531h0M1309 1550h0M1622 1546h0M1347 1600h0M1563 1588h0M1108 1534h0M1486 1541h0M1552 1542h0M1427 1540h0M1349 1609h0M1246 1541h0M1197 1596h0M1553 1511h0M1401 1563h0M1504 1533h0M1375 1591h0M1491 1573h0M1224 1542h0M1490 1590h0M1111 1617h0M1623 1574h0M1419 1565h0M1390 1601h0M1379 1573h0M1278 1601h0M1463 1558h0M1099 1555h0M1573 1547h0M1112 1549h0M1355 1552h0M1092 1597h0M1192 1609h0M1452 1562h0M1153 1507h0M1197 1595h0M1088 1621h0M1085 1605h0M1486 1575h0M1556 1564h0M1156 1556h0M1257 1510h0M1103 1613h0M1238 1517h0M1655 1574h0M1252 1527h0M1110 1565h0M1157 1520h0M1066 1530h0M1250 1533h0M1301 1603h0M1215 1510h0M1512 1531h0M1274 1578h0M1512 1569h0M1403 1577h0M1202 1585h0M1241 1607h0M1624 1547h0M1242 1520h0M1412 1585h0M1313 1540h0M1092 1603h0M1426 1524h0M1347 1521h0M1110 1563h0M1217 1548h0M1615 1571h0M1166 1571h0M1166 1548h0M1610 1543h0M1136 1604h0M1201 1525h0M1251 1566h0M1272 1560h0M1228 1586h0M1248 1576h0M1627 1516h0M1432 1592h0M1085 1583h0M1156 1527h0M1243 1605h0M1223 1559h0M1378 1542h0M1383 1512h0M1119 1535h0M1268 1564h0M1485 1512h0M1586 1522h0M1396 1549h0M1239 1606h0M1642 1540h0M1429 1532h0M1230 1527h0M1416 1514h0M1472 1543h0M1185 1538h0M1355 1602h0M1371 1535h0M1531 1582h0M1368 1579h0M1421 1557h0M1135 1606h0M1464 1591h0M1397 1577h0M1103 1530h0M1680 1526h0M1509 1523h0M1200 1536h0M1061 1540h0M1371 1530h0M1204 1606h0M1313 1545h0M1106 1538h0M1083 1541h0M1197 1548h0M1374 1597h0M1485 1545h0M1070 1583h0M1253 1516h0M1209 1548h0M1120 1566h0M1667 1547h0M1303 1579h0M1102 1608h0M1446 1577h0M1467 1512h0M1247 1590h0M1306 1579h0M1226 1533h0M1076 1555h0M1129 1534h0M1576 1575h0M1202 1549h0M1288 1516h0M1471 1542h0M1398 1518h0M1435 1514h0M1533 1582h0M1482 1539h0M1533 1551h0M1296 1535h0M1595 1561h0M1616 1567h0M1101 1538h0M1107 1597h0M1181 1524h0M1330 1556h0M1242 1528h0M1442 1556h0M1431 1523h0M1203 1592h0M1501 1533h0M1412 1568h0M1247 1589h0M1273 1577h0M1308 1563h0M1427 1586h0M1598 1533h0M1206 1594h0M1380 1512h0M1347 1560h0M1068 1576h0M1456 1561h0M1595 1571h0M1211 1555h0M1679 1539h0M1079 1562h0M1194 1596h0M1384 1514h0M1310 1542h0M1071 1554h0M1440 1566h0M1108 1558h0M1545 1561h0M1401 1538h0M1570 1523h0M1206 1599h0M1575 1543h0M1067 1567h0M1371 1517h0M1475 1550h0M1384 1574h0M1065 1537h0M1548 1543h0M1442 1536h0M1617 1561h0M1513 1516h0M1343 1608h0M1343 1599h0M1540 1564h0M1467 1509h0M1172 1537h0M1429 1600h0M1275 1525h0M1621 1568h0M1444 1558h0M1090 1537h0M1465 1511h0M1670 1533h0M1576 1556h0M1076 1550h0M1284 1572h0M1125 1603h0M1261 1603h0M1281 1550h0M1246 1552h0M1616 1559h0M1095 1524h0M1250 1532h0M1191 1545h0M1247 1589h0M1259 1609h0M1319 1532h0M1600 1510h0M1208 1554h0M1512 1529h0M1330 1565h0M1415 1566h0M1381 1541h0M1278 1571h0M1240 1610h0M1468 1550h0M1188 1584h0M1639 1529h0M1185 1563h0M1349 1573h0M1088 1584h0M1407 1599h0M1629 1560h0M1409 1571h0M1379 1548h0M1376 1602h0M1247 1589h0M1278 1552h0M1667 1518h0M1402 1597h0M1179 1600h0M1417 1599h0M1504 1568h0M1436 1527h0M1105 1532h0M1376 1530h0M1379 1515h0M1438 1534h0M1530 1572h0M1314 1549h0M1195 1517h0M1324 1551h0M1542 1525h0M1442 1582h0M1316 1580h0M1222 1513h0M1117 1584h0M1354 1539h0M1317 1595h0M1179 1511h0M1097 1588h0M1549 1563h0M1563 1518h0M1465 1584h0M1449 1579h0M1183 1597h0M1344 1555h0M1136 1610h0M1652 1542h0M1115 1546h0M1058 1554h0M1206 1543h0M1225 1607h0M1143 1609h0M1173 1579h0M1192 1607h0M1453 1509h0M1462 1560h0M1385 1532h0M1210 1551h0M1570 1572h0M1550 1550h0M1380 1530h0M1255 1548h0M1220 1537h0M1542 1569h0M1511 1577h0M1110 1548h0M1454 1580h0M1333 1515h0M1459 1526h0M1403 1561h0M1170 1582h0M1488 1582h0M1406 1604h0M1273 1537h0M1354 1591h0M1253 1522h0M1330 1537h0M1104 1581h0M1314 1585h0M1405 1595h0M1325 1551h0M1121 1573h0M1107 1619h0M1283 1577h0M1244 1609h0M1342 1547h0M1305 1534h0M1090 1547h0M1522 1575h0M1195 1578h0M1492 1530h0M1241 1598h0M1296 1561h0M1357 1606h0M1576 1534h0M1558 1576h0M1417 1518h0M1368 1520h0M1211 1554h0M1476 1526h0M1343 1514h0M1383 1550h0M1145 1510h0M1360 1554h0M1471 1566h0M1130 1577h0M1514 1517h0M1164 1605h0M1427 1515h0M1192 1579h0M1425 1518h0M1624 1548h0M1196 1604h0M1409 1567h0M1240 1554h0M1241 1601h0M1551 1543h0M1631 1529h0M1297 1563h0M1325 1602h0M1451 1519h0M1109 1570h0M1108 1521h0M1220 1583h0M1105 1591h0M1242 1528h0M1430 1588h0M1533 1591h0M1200 1571h0M1234 1515h0M1274 1566h0M1063 1580h0M1305 1593h0M1298 1570h0M1083 1616h0M1136 1583h0M1262 1595h0M1480 1586h0M1115 1611h0M1252 1539h0M1351 1513h0M1137 1576h0M1281 1512h0M1165 1588h0M1236 1598h0M1470 1581h0M1204 1608h0M1624 1563h0M1182 1520h0M1632 1532h0M1504 1591h0M1381 1525h0M1211 1510h0M1095 1611h0M1634 1561h0M1310 1606h0M1256 1560h0M1160 1565h0M1077 1554h0M1305 1515h0M1307 1540h0M1081 1616h0M1376 1556h0M1327 1573h0M1579 1537h0M1406 1530h0M1254 1515h0M1351 1538h0M1418 1548h0M1196 1601h0M1279 1510h0M1447 1570h0M1061 1546h0M1334 1563h0M1131 1577h0M1130 1537h0M1268 1523h0M1274 1520h0M1628 1549h0M1453 1546h0M1451 1526h0M1368 1578h0M1414 1603h0M1553 1552h0M1438 1536h0M1625 1552h0M1605 1564h0M1479 1540h0M1294 1601h0M1406 1601h0M1102 1538h0M1264 1554h0M1455 1583h0M1064 1588h0M1290 1610h0M1483 1581h0M1433 1526h0M1654 1524h0M1431 1581h0M1483 1599h0M1158 1547h0M1625 1549h0M1639 1529h0M1460 1535h0M1361 1529h0M1622 1558h0M1240 1512h0M1120 1589h0M1317 1605h0M1610 1565h0M1534 1560h0M1535 1555h0M1632 1550h0M1326 1553h0M1296 1597h0M1512 1511h0M1531 1543h0M1366 1527h0M1265 1563h0M1279 1580h0M1476 1535h0M1396 1526h0M1181 1530h0M1271 1526h0M1673 1552h0M1075 1588h0M1527 1537h0M1653 1554h0M1601 1516h0M1213 1550h0M1354 1577h0M1442 1594h0M1112 1525h0M1079 1557h0M1573 1549h0M1534 1526h0M1165 1525h0M1489 1508h0M1179 1550h0M1541 1590h0M1175 1590h0M1186 1536h0M1239 1607h0M1657 1520h0M1472 1514h0M1188 1590h0M1113 1527h0M1313 1594h0M1507 1544h0M1367 1520h0M1495 1548h0M1553 1576h0M1125 1517h0M1081 1620h0M1644 1534h0M1174 1562h0M1424 1577h0M1673 1553h0M1222 1559h0M1643 1532h0M1201 1552h0M1068 1580h0M1487 1574h0M1523 1551h0M1363 1562h0M1414 1555h0M1367 1547h0M1355 1602h0M1373 1545h0M1640 1538h0M1241 1525h0M1469 1520h0M1548 1586h0M1290 1580h0M1162 1509h0M1161 1508h0M1192 1569h0M1420 1565h0M1259 1522h0M1455 1567h0M1429 1543h0M1431 1548h0M1127 1567h0" stroke="#ff00ff" stroke-width="13.4" stroke-linecap="round" fill="none"/>
<path d="M1051 1571h0M1019 1594h0M1040 1602h0M1095 1617h0M1086 1606h0M1109 1616h0M1058 1591h0M1030 1576h0M1064 1580h0M1082 1609h0M1068 1589h0M1120 1615h0M1055 1595h0M1120 1613h0M1110 1603h0M1087 1592h0M1110 1611h0M1070 1605h0M1112 1613h0M1123 1629h0M1052 1611h0M1059 1624h0M1075 1614h0M1032 1578h0M1111 1602h0M1093 1605h0M1075 1601h0M1107 1603h0M1052 1607h0M1115 1600h0M1035 1610h0M1041 1583h0M1066 1599h0M1012 1596h0M1056 1587h0M1021 1587h0M1063 1621h0M1070 1594h0M1085 1606h0M1009 1575h0M1079 1614h0M1067 1583h0M1061 1607h0M1042 1575h0M1034 1605h0" stroke="#ff00ff" stroke-width="13.4" stroke-linecap="round" fill="none"/>
<path d="M956 1588h0M952 1593h0M983 1600h0M971 1600h0M955 1592h0M956 1593h0M983 1592h0M996 1596h0" stroke="#ff00ff" stroke-width="13.4" stroke-linecap="round" fill="none"/>
<path d="M1305 1650h0M1320 1652h0M1340 1648h0M1352 1630h0M1365 1620h0M1380 1633h0M1395 1625h0M1410 1640h0M1425 1652h0M1345 1655h0M1372 1650h0M1390 1655h0M1360 1635h0M1377 1648h0" stroke="#ff00ff" stroke-width="13.4" stroke-linecap="round" fill="none"/>
<path d="M1517 1516h0M1484 1538h0M1583 1554h0M1507 1588h0M1618 1572h0M1610 1512h0M1511 1529h0M1565 1579h0M1512 1517h0M1596 1544h0M1508 1568h0M1658 1528h0M1631 1514h0M1589 1582h0M1500 1559h0M1551 1575h0M1529 1553h0M1680 1538h0M1535 1526h0M1602 1565h0M1543 1509h0M1645 1533h0M1669 1554h0M1484 1591h0M1489 1572h0M1645 1522h0M1622 1547h0M1533 1511h0M1654 1544h0M1498 1538h0M1536 1556h0M1649 1524h0M1564 1534h0M1681 1543h0M1677 1527h0M1617 1569h0M1546 1552h0M1658 1522h0M1624 1531h0M1518 1554h0M1677 1547h0M1481 1553h0M1590 1587h0M1494 1539h0M1658 1531h0M1587 1522h0M1642 1572h0M1618 1527h0M1644 1577h0M1580 1552h0M1524 1531h0M1586 1573h0M1578 1579h0M1492 1567h0M1546 1580h0M1669 1557h0M1526 1548h0M1562 1532h0M1569 1569h0M1654 1564h0M1635 1518h0M1645 1526h0M1528 1567h0M1494 1568h0M1642 1567h0M1500 1552h0M1632 1536h0M1492 1577h0M1491 1522h0M1630 1581h0M1538 1511h0M1487 1545h0M1500 1518h0M1644 1571h0M1594 1561h0M1610 1552h0M1578 1537h0M1590 1583h0M1679 1548h0M1583 1570h0M1577 1564h0M1528 1532h0M1533 1545h0M1662 1563h0M1495 1516h0M1502 1546h0M1641 1516h0M1677 1529h0M1586 1519h0M1583 1566h0M1511 1536h0M1564 1578h0M1618 1552h0M1671 1541h0M1530 1582h0M1610 1547h0M1585 1578h0M1581 1560h0M1504 1549h0M1519 1520h0M1540 1534h0M1640 1535h0M1610 1567h0M1651 1569h0M1519 1522h0M1598 1558h0M1480 1582h0M1621 1560h0M1522 1551h0M1583 1525h0M1558 1523h0M1587 1573h0M1657 1529h0M1493 1565h0M1610 1530h0M1490 1551h0M1581 1524h0M1528 1531h0M1510 1575h0M1645 1569h0M1559 1511h0M1490 1538h0M1481 1589h0M1542 1510h0M1504 1571h0M1529 1538h0M1559 1587h0M1533 1545h0M1683 1537h0M1579 1575h0M1556 1523h0M1583 1563h0M1522 1575h0M1623 1529h0M1547 1559h0M1480 1539h0M1652 1576h0M1585 1575h0M1546 1515h0M1527 1566h0M1524 1539h0M1664 1546h0M1646 1565h0M1596 1532h0M1651 1535h0M1629 1553h0M1481 1568h0M1605 1513h0M1587 1550h0M1542 1532h0M1630 1555h0M1648 1537h0M1624 1538h0M1633 1512h0M1657 1564h0M1664 1539h0M1631 1565h0M1513 1582h0M1674 1539h0M1667 1533h0M1615 1530h0M1501 1590h0M1508 1520h0M1524 1576h0M1656 1543h0M1581 1586h0M1563 1554h0M1620 1561h0M1560 1548h0M1657 1556h0" stroke="#ff00ff" stroke-width="13.4" stroke-linecap="round" fill="none"/>
<path d="M1419 1525h0M1324 1557h0M1403 1539h0M1398 1558h0M1168 1534h0M1265 1526h0M1350 1521h0M1204 1541h0M1225 1542h0M1394 1555h0M1238 1505h0M1264 1504h0M1206 1543h0M1182 1539h0M1259 1539h0M1456 1559h0M1270 1513h0M1176 1509h0M1196 1532h0M1476 1556h0M1254 1544h0M1156 1518h0M1434 1524h0M1483 1523h0M1309 1533h0M1194 1537h0M1402 1543h0M1142 1507h0M1196 1530h0M1143 1523h0M1346 1549h0M1144 1538h0M1411 1515h0M1384 1538h0M1305 1559h0M1181 1542h0M1128 1521h0M1211 1539h0M1285 1503h0M1304 1509h0M1122 1515h0M1291 1550h0M1488 1521h0M1322 1559h0M1347 1519h0M1266 1541h0M1388 1507h0M1232 1528h0M1277 1538h0M1471 1510h0M1271 1548h0M1186 1523h0M1487 1520h0M1446 1554h0M1497 1548h0M1500 1515h0M1473 1548h0M1307 1548h0M1419 1506h0M1405 1513h0M1308 1551h0M1373 1556h0M1393 1526h0M1155 1505h0M1392 1514h0M1207 1543h0M1216 1537h0M1226 1537h0M1321 1550h0M1267 1523h0" stroke="#00ffff" stroke-width="13.4" stroke-linecap="round" fill="none"/>
<path d="M1572 1530h0M1570 1526h0M1553 1555h0M1589 1515h0M1608 1561h0M1624 1522h0M1562 1590h0M1535 1528h0M1628 1572h0M1665 1544h0M1615 1533h0M1577 1584h0M1605 1578h0M1549 1558h0M1684 1552h0M1646 1516h0M1550 1568h0M1677 1513h0M1570 1588h0M1618 1554h0M1591 1570h0M1582 1576h0M1562 1520h0M1669 1537h0M1629 1564h0M1610 1552h0M1533 1521h0M1571 1550h0M1626 1554h0M1682 1517h0M1625 1565h0M1636 1549h0M1618 1561h0M1597 1584h0M1566 1530h0M1670 1580h0M1540 1543h0M1554 1515h0M1600 1538h0M1643 1529h0M1624 1581h0M1637 1587h0M1547 1556h0M1606 1518h0M1632 1537h0" stroke="#00ffff" stroke-width="13.4" stroke-linecap="round" fill="none"/>
<path d="M1440 1536h0M1460 1549h0M1258 1614h0M1357 1528h0M1344 1610h0M1151 1611h0M1431 1572h0M1459 1578h0M1431 1572h0M1247 1601h0M1277 1582h0M1169 1591h0M1481 1612h0M1460 1573h0M1263 1570h0M1430 1583h0M1380 1533h0M1461 1540h0M1393 1581h0M1362 1547h0M1345 1555h0M1294 1559h0M1293 1588h0M1509 1592h0M1192 1595h0M1384 1541h0M1193 1604h0M1426 1615h0M1235 1599h0M1347 1545h0M1384 1536h0M1340 1572h0M1361 1577h0M1312 1557h0M1191 1590h0M1145 1592h0M1290 1598h0M1366 1571h0M1497 1603h0M1333 1545h0M1203 1581h0M1451 1529h0M1236 1582h0M1459 1565h0M1190 1583h0M1330 1557h0M1292 1581h0M1202 1616h0M1465 1594h0M1420 1559h0M1377 1535h0M1314 1581h0M1133 1601h0M1487 1585h0M1398 1530h0M1355 1548h0M1341 1545h0M1321 1581h0M1412 1538h0M1262 1595h0M1250 1581h0M1383 1554h0M1367 1561h0M1149 1610h0M1421 1537h0M1296 1613h0M1227 1584h0M1306 1564h0M1392 1611h0M1493 1544h0M1424 1534h0M1319 1565h0M1409 1532h0M1348 1599h0M1318 1604h0M1291 1614h0M1317 1574h0M1321 1577h0M1337 1608h0M1254 1599h0M1267 1583h0M1455 1607h0M1174 1603h0M1489 1576h0M1390 1567h0M1214 1589h0M1336 1547h0M1292 1570h0M1202 1595h0M1218 1603h0M1388 1555h0M1240 1593h0M1496 1614h0M1262 1616h0M1414 1565h0M1113 1612h0M1396 1591h0M1395 1559h0M1436 1591h0M1181 1594h0M1388 1560h0M1415 1543h0M1282 1609h0M1390 1591h0M1319 1588h0M1505 1589h0M1366 1541h0M1118 1602h0M1336 1531h0M1370 1612h0M1380 1554h0M1411 1573h0M1422 1593h0M1345 1593h0M1241 1571h0M1425 1560h0M1217 1611h0M1401 1618h0M1307 1569h0M1434 1557h0M1488 1553h0M1242 1599h0M1377 1576h0M1151 1613h0M1210 1601h0M1298 1586h0M1246 1614h0M1234 1599h0M1137 1606h0M1473 1577h0M1468 1557h0M1441 1550h0M1349 1529h0M1141 1599h0M1135 1601h0M1342 1587h0M1428 1564h0M1385 1552h0M1368 1547h0M1353 1595h0M1469 1548h0M1489 1599h0M1332 1544h0M1366 1560h0M1258 1569h0M1272 1565h0M1452 1583h0M1423 1527h0M1417 1617h0M1411 1557h0M1394 1559h0M1402 1607h0M1281 1572h0M1497 1578h0M1147 1600h0M1269 1615h0M1402 1543h0M1253 1606h0M1371 1574h0M1451 1603h0M1395 1547h0M1118 1611h0M1391 1572h0M1190 1600h0M1323 1554h0M1289 1568h0M1500 1578h0M1362 1582h0M1286 1615h0M1354 1571h0M1501 1612h0M1175 1610h0M1381 1562h0M1163 1589h0M1288 1563h0M1432 1581h0M1394 1529h0M1397 1607h0M1305 1586h0M1216 1584h0M1361 1552h0M1473 1557h0M1390 1537h0M1393 1569h0M1264 1595h0M1342 1605h0M1438 1570h0M1486 1576h0M1415 1593h0M1428 1559h0M1369 1532h0M1295 1617h0M1223 1592h0M1327 1578h0M1478 1550h0M1252 1608h0M1289 1561h0M1448 1547h0M1207 1588h0M1367 1549h0M1465 1538h0M1441 1587h0M1432 1548h0M1334 1610h0M1481 1575h0M1317 1559h0M1478 1585h0M1294 1608h0M1221 1586h0M1183 1587h0M1225 1613h0M1263 1602h0M1477 1589h0M1360 1534h0M1463 1562h0M1282 1579h0M1384 1575h0M1346 1573h0M1491 1563h0M1137 1606h0M1387 1606h0M1483 1544h0M1330 1546h0M1419 1592h0M1390 1598h0M1262 1587h0M1350 1537h0M1401 1600h0M1372 1535h0M1258 1610h0M1472 1598h0M1388 1571h0M1247 1599h0M1245 1598h0M1280 1613h0M1285 1567h0M1357 1577h0M1267 1611h0M1223 1579h0M1268 1609h0M1341 1616h0M1391 1561h0M1204 1615h0M1497 1579h0M1316 1583h0M1268 1567h0M1345 1548h0M1444 1546h0M1223 1599h0M1143 1607h0M1452 1576h0M1393 1556h0M1504 1593h0M1259 1579h0M1183 1607h0M1394 1549h0M1208 1596h0M1179 1586h0M1363 1533h0M1233 1605h0M1404 1528h0M1251 1616h0M1435 1531h0M1467 1545h0M1143 1597h0M1494 1605h0M1376 1531h0M1486 1542h0M1354 1596h0M1403 1545h0M1382 1590h0M1388 1538h0M1293 1560h0M1454 1588h0M1277 1573h0M1338 1539h0M1248 1572h0M1425 1554h0M1219 1578h0M1277 1604h0M1456 1552h0M1396 1603h0M1378 1567h0M1479 1564h0M1127 1608h0M1457 1561h0M1233 1599h0M1434 1616h0M1414 1589h0M1483 1583h0M1485 1569h0M1321 1612h0M1228 1595h0M1179 1605h0M1292 1570h0M1344 1530h0M1152 1601h0M1357 1597h0M1240 1575h0M1313 1588h0M1424 1617h0M1419 1551h0M1454 1567h0M1144 1593h0M1398 1620h0M1222 1612h0M1364 1616h0M1363 1603h0M1403 1580h0M1350 1538h0M1356 1548h0M1298 1602h0M1364 1571h0M1168 1614h0M1321 1613h0M1400 1577h0M1407 1609h0M1421 1597h0M1452 1607h0M1267 1581h0M1344 1554h0M1419 1560h0M1287 1571h0M1289 1590h0M1434 1573h0M1473 1590h0M1373 1547h0M1275 1617h0M1448 1549h0M1297 1611h0M1445 1586h0M1377 1616h0M1333 1581h0M1463 1543h0M1424 1604h0M1340 1573h0M1343 1603h0M1469 1603h0M1381 1556h0M1365 1536h0M1316 1569h0M1399 1592h0M1479 1553h0M1363 1534h0M1399 1550h0M1224 1578h0M1420 1532h0M1322 1578h0M1485 1544h0M1357 1563h0M1412 1581h0M1343 1573h0M1345 1581h0M1337 1567h0M1285 1572h0M1375 1599h0M1311 1573h0M1393 1538h0M1430 1591h0M1383 1611h0M1310 1616h0M1356 1547h0M1464 1603h0M1329 1617h0M1283 1601h0M1168 1588h0M1316 1614h0M1475 1584h0M1476 1561h0M1317 1595h0M1376 1587h0M1148 1612h0M1408 1541h0M1368 1597h0M1180 1589h0M1336 1592h0M1358 1619h0M1138 1596h0M1469 1595h0M1378 1541h0M1099 1606h0M1330 1617h0M1272 1581h0M1205 1592h0M1319 1546h0M1393 1611h0M1272 1608h0M1406 1532h0M1405 1615h0M1336 1549h0M1339 1603h0M1332 1557h0M1373 1576h0M1393 1543h0M1198 1585h0M1487 1583h0M1175 1591h0M1259 1585h0M1340 1555h0M1320 1536h0M1370 1552h0M1263 1590h0M1301 1556h0M1408 1581h0M1240 1600h0M1200 1585h0M1461 1598h0M1374 1594h0M1442 1591h0M1467 1569h0M1477 1573h0M1328 1556h0M1283 1574h0M1376 1610h0M1379 1607h0M1241 1607h0M1470 1613h0M1351 1568h0M1446 1551h0M1366 1559h0M1456 1601h0M1398 1526h0M1288 1615h0M1442 1543h0M1313 1560h0M1393 1554h0M1183 1606h0M1284 1575h0M1444 1568h0M1451 1607h0M1406 1601h0M1374 1537h0M1486 1566h0M1372 1600h0M1393 1586h0M1472 1611h0M1422 1589h0M1431 1599h0M1396 1548h0M1369 1600h0M1387 1596h0M1286 1593h0M1276 1594h0M1417 1619h0M1476 1595h0M1399 1529h0M1369 1594h0M1353 1558h0M1330 1607h0M1259 1577h0M1262 1587h0M1104 1599h0M1494 1547h0M1450 1596h0M1418 1580h0M1360 1566h0M1463 1590h0M1360 1595h0M1423 1577h0M1240 1574h0M1400 1604h0M1479 1608h0M1428 1530h0M1348 1555h0M1246 1618h0M1276 1570h0M1427 1583h0M1485 1590h0M1239 1574h0M1292 1605h0M1383 1561h0M1258 1602h0M1189 1607h0M1426 1542h0M1363 1529h0M1217 1577h0M1408 1582h0M1288 1588h0M1460 1547h0M1320 1581h0M1439 1552h0M1360 1550h0M1154 1592h0M1299 1579h0M1435 1599h0M1451 1580h0M1231 1596h0M1368 1553h0M1316 1551h0M1145 1599h0M1266 1584h0M1418 1533h0M1400 1538h0M1509 1569h0M1438 1612h0M1288 1573h0M1415 1576h0M1451 1548h0M1485 1580h0M1291 1566h0M1293 1567h0M1446 1534h0M1358 1599h0M1373 1579h0M1273 1585h0M1484 1607h0M1352 1603h0M1376 1606h0M1453 1532h0M1412 1555h0M1416 1530h0M1217 1611h0M1497 1548h0M1250 1574h0M1218 1615h0M1350 1606h0M1504 1572h0M1184 1588h0M1501 1563h0M1421 1616h0M1145 1610h0M1459 1586h0M1407 1606h0M1348 1591h0M1508 1578h0M1353 1556h0M1355 1549h0M1424 1575h0M1448 1613h0M1487 1543h0M1400 1596h0M1143 1614h0M1361 1559h0M1352 1531h0M1403 1558h0M1374 1553h0M1333 1614h0M1393 1570h0M1450 1545h0M1437 1613h0M1496 1550h0M1427 1566h0M1290 1561h0M1360 1541h0M1399 1562h0M1260 1602h0M1439 1531h0M1356 1547h0M1355 1580h0M1293 1585h0M1346 1587h0M1486 1556h0M1336 1545h0M1395 1549h0M1367 1586h0M1483 1550h0M1279 1597h0M1393 1537h0M1388 1540h0M1359 1552h0M1317 1545h0M1375 1602h0M1411 1604h0M1461 1563h0M1329 1614h0M1391 1594h0M1184 1607h0M1430 1572h0M1473 1583h0M1320 1601h0M1431 1591h0M1321 1600h0M1297 1557h0M1457 1548h0M1450 1584h0M1511 1571h0M1448 1589h0M1406 1599h0M1405 1533h0M1128 1597h0M1490 1595h0M1158 1614h0M1395 1554h0M1238 1609h0M1378 1590h0M1381 1543h0M1455 1587h0M1413 1551h0M1447 1605h0M1348 1572h0M1273 1618h0M1454 1538h0M1466 1576h0M1284 1597h0M1307 1563h0M1364 1601h0M1287 1563h0M1367 1543h0M1184 1606h0M1374 1534h0M1225 1604h0M1152 1612h0M1302 1616h0M1334 1536h0M1334 1541h0M1340 1562h0M1427 1590h0M1435 1591h0M1454 1594h0M1445 1534h0M1308 1566h0M1389 1615h0M1188 1603h0M1452 1568h0M1136 1602h0M1206 1594h0M1298 1559h0M1491 1613h0M1445 1578h0M1383 1606h0M1360 1572h0M1408 1613h0M1278 1567h0M1342 1618h0M1439 1601h0M1504 1558h0M1513 1571h0M1230 1591h0M1333 1609h0M1417 1572h0M1447 1576h0M1167 1608h0M1343 1591h0M1184 1591h0M1387 1609h0M1461 1555h0M1282 1571h0M1189 1589h0M1209 1610h0M1432 1558h0M1356 1537h0M1348 1540h0M1427 1616h0M1358 1574h0M1396 1530h0M1304 1592h0M1402 1574h0M1108 1599h0M1496 1551h0M1399 1589h0M1490 1579h0M1432 1552h0M1428 1562h0M1365 1573h0M1357 1548h0M1468 1552h0M1477 1564h0M1192 1612h0M1320 1589h0M1494 1563h0M1301 1561h0M1193 1583h0M1295 1592h0M1219 1590h0M1385 1532h0M1336 1561h0M1455 1567h0M1218 1610h0M1405 1614h0M1361 1556h0M1383 1615h0M1241 1608h0M1231 1585h0M1385 1606h0M1298 1616h0M1345 1547h0M1346 1574h0M1462 1560h0M1401 1533h0M1360 1606h0M1438 1554h0M1476 1560h0M1476 1562h0M1438 1532h0M1492 1613h0M1431 1599h0M1446 1565h0M1338 1529h0M1361 1561h0M1302 1597h0M1117 1610h0M1469 1559h0M1489 1601h0M1490 1614h0M1177 1606h0M1423 1609h0M1362 1528h0M1437 1595h0M1489 1614h0M1201 1593h0M1148 1599h0M1424 1567h0M1233 1603h0M1460 1541h0M1393 1581h0M1428 1598h0M1232 1614h0M1379 1527h0M1288 1580h0M1408 1538h0M1483 1614h0M1386 1569h0M1438 1571h0M1515 1577h0M1277 1613h0M1346 1545h0M1354 1580h0M1456 1575h0M1357 1560h0M1371 1594h0M1391 1538h0M1199 1596h0M1182 1604h0M1204 1606h0M1463 1548h0M1412 1574h0M1439 1541h0M1205 1610h0M1492 1580h0M1353 1573h0M1485 1609h0M1205 1607h0M1303 1557h0M1234 1592h0M1200 1593h0M1490 1545h0M1357 1548h0M1425 1603h0M1340 1602h0M1433 1613h0M1321 1597h0M1225 1595h0M1400 1555h0M1432 1557h0M1423 1539h0M1338 1606h0M1160 1607h0M1447 1554h0M1312 1583h0M1339 1531h0M1263 1600h0M1371 1530h0M1370 1574h0M1418 1602h0M1271 1583h0M1365 1544h0M1261 1603h0M1335 1547h0M1288 1590h0M1507 1575h0M1219 1583h0M1433 1555h0M1329 1532h0M1186 1597h0M1299 1578h0M1209 1602h0M1403 1618h0M1489 1608h0M1474 1566h0M1373 1550h0M1495 1591h0M1307 1596h0M1337 1588h0M1340 1611h0M1386 1566h0M1370 1572h0M1280 1568h0M1198 1592h0M1296 1573h0M1140 1597h0M1386 1528h0M1422 1558h0M1222 1615h0M1494 1611h0M1311 1612h0M1363 1618h0M1395 1554h0M1218 1589h0M1340 1607h0M1186 1586h0M1366 1568h0M1206 1586h0M1187 1607h0M1276 1611h0M1382 1614h0M1348 1554h0M1241 1589h0M1178 1611h0M1505 1602h0M1420 1538h0" stroke="#008000" stroke-width="13.4" stroke-linecap="round" fill="none"/>
<path d="M1539 1552h0M1379 1583h0M1467 1564h0M1511 1569h0M1546 1576h0M1357 1535h0M1505 1608h0M1424 1589h0M1395 1561h0M1470 1568h0M1380 1586h0M1416 1593h0M1452 1533h0M1568 1543h0M1357 1545h0M1444 1530h0M1351 1550h0M1363 1543h0M1495 1600h0M1406 1532h0M1482 1581h0M1478 1589h0M1405 1600h0M1526 1541h0M1414 1546h0M1554 1551h0M1425 1577h0M1369 1560h0M1375 1570h0M1476 1552h0M1593 1564h0M1354 1597h0M1503 1562h0M1439 1597h0M1372 1532h0M1522 1551h0M1597 1584h0M1455 1545h0M1394 1588h0M1481 1568h0M1416 1601h0M1509 1577h0M1546 1582h0M1358 1600h0M1481 1544h0M1555 1598h0M1435 1584h0M1569 1585h0M1496 1572h0M1503 1549h0M1358 1549h0M1447 1533h0M1412 1584h0M1604 1578h0M1536 1596h0M1378 1598h0M1513 1531h0M1522 1566h0M1399 1553h0M1594 1573h0M1568 1556h0M1544 1541h0M1358 1539h0M1442 1547h0M1392 1569h0M1519 1584h0M1543 1534h0M1485 1581h0M1404 1545h0M1406 1592h0M1401 1578h0M1523 1593h0M1527 1595h0M1365 1568h0M1528 1565h0M1446 1535h0M1360 1570h0M1443 1534h0M1379 1559h0M1436 1542h0M1551 1564h0M1463 1582h0M1590 1566h0M1447 1560h0M1437 1583h0M1550 1586h0M1566 1587h0M1529 1562h0M1529 1591h0M1522 1563h0M1517 1537h0M1415 1581h0M1381 1586h0M1467 1547h0M1420 1544h0M1591 1552h0M1362 1571h0M1474 1528h0M1461 1544h0M1443 1550h0M1507 1598h0M1504 1599h0M1390 1529h0M1358 1587h0M1503 1547h0M1477 1583h0M1510 1594h0M1598 1576h0M1457 1573h0M1392 1580h0M1374 1583h0M1391 1542h0M1404 1550h0M1472 1570h0M1429 1570h0M1444 1551h0M1444 1551h0M1504 1552h0M1355 1581h0M1608 1560h0M1423 1574h0M1362 1552h0M1532 1557h0M1432 1547h0M1362 1554h0M1374 1547h0M1496 1595h0M1426 1531h0M1391 1599h0M1376 1600h0M1403 1551h0M1490 1535h0M1447 1604h0M1442 1598h0M1505 1541h0M1513 1582h0M1552 1560h0M1456 1542h0M1471 1526h0M1531 1559h0M1489 1578h0M1476 1569h0M1425 1592h0M1462 1588h0M1453 1550h0M1465 1533h0M1510 1561h0M1506 1600h0M1570 1565h0M1428 1597h0M1462 1585h0M1564 1577h0M1442 1550h0M1583 1588h0M1602 1585h0M1545 1602h0M1527 1541h0M1532 1585h0M1393 1573h0M1583 1581h0M1392 1542h0M1476 1574h0M1511 1602h0M1425 1593h0M1505 1539h0M1479 1563h0M1465 1557h0M1594 1546h0M1403 1534h0M1412 1536h0" stroke="#008000" stroke-width="13.4" stroke-linecap="round" fill="none"/>
<path d="M1412 1627h0M1425 1630h0M1440 1629h0M1455 1632h0M1470 1630h0M1480 1631h0M1376 1650h0M1392 1647h0M1398 1641h0M1370 1644h0M1352 1640h0M1540 1583h0M1556 1590h0M1600 1580h0M1652 1570h0M1575 1565h0M1460 1610h0M1445 1618h0" stroke="#008000" stroke-width="13.4" stroke-linecap="round" fill="none"/>
<path d="M1396 1587h0M1455 1589h0M1404 1579h0M1486 1550h0M1539 1575h0M1595 1585h0M1456 1586h0M1568 1581h0M1578 1553h0M1480 1589h0M1377 1552h0M1483 1569h0M1488 1583h0M1427 1566h0M1442 1582h0M1562 1546h0M1421 1555h0M1551 1555h0M1407 1556h0M1451 1586h0M1592 1558h0M1588 1566h0M1543 1590h0M1399 1566h0M1461 1572h0M1582 1556h0M1533 1555h0M1490 1567h0M1414 1586h0M1522 1567h0M1422 1584h0M1343 1587h0M1508 1579h0M1623 1573h0M1591 1566h0M1346 1584h0M1360 1589h0M1584 1579h0M1461 1554h0M1490 1581h0M1580 1551h0M1486 1593h0M1612 1569h0M1464 1565h0M1584 1571h0M1559 1583h0M1528 1592h0M1551 1574h0M1497 1563h0M1498 1597h0M1577 1588h0M1566 1569h0M1380 1550h0M1459 1550h0M1440 1565h0M1551 1562h0M1526 1564h0M1403 1571h0M1413 1563h0M1569 1549h0M1375 1554h0M1406 1566h0M1427 1574h0M1487 1555h0M1474 1581h0M1542 1553h0M1357 1556h0M1524 1592h0M1547 1548h0M1433 1580h0M1604 1554h0M1479 1582h0M1556 1563h0M1421 1571h0M1455 1582h0M1597 1577h0M1557 1552h0M1528 1561h0M1366 1591h0M1500 1553h0M1379 1590h0M1500 1596h0M1387 1584h0M1445 1578h0M1397 1553h0M1536 1552h0M1535 1555h0M1492 1575h0M1454 1590h0M1451 1568h0M1405 1574h0M1540 1584h0M1489 1552h0M1378 1586h0M1557 1549h0M1398 1551h0M1444 1570h0M1464 1574h0M1481 1558h0M1575 1585h0M1474 1579h0M1524 1584h0M1570 1576h0M1360 1575h0M1631 1581h0M1624 1583h0M1525 1587h0M1400 1558h0M1487 1599h0M1510 1555h0M1605 1589h0M1551 1587h0M1539 1546h0M1519 1576h0M1508 1596h0M1603 1559h0M1497 1593h0M1343 1576h0M1482 1561h0M1448 1576h0" stroke="#ff00ff" stroke-width="13.4" stroke-linecap="round" fill="none"/>
<path d="M1335 1587h0M1346 1588h0M1357 1585h0M1368 1584h0M1379 1584h0M1390 1586h0M1427 1581h0M1454 1585h0M1488 1584h0M1487 1579h0M1466 1579h0M1454 1581h0M1446 1579h0M1470 1590h0M1480 1591h0M1435 1581h0M1435 1581h0M1425 1588h0M1569 1595h0M1542 1598h0M1569 1588h0M1551 1598h0M1540 1595h0M1569 1589h0M1549 1580h0M1540 1587h0" stroke="#00ffff" stroke-width="13.4" stroke-linecap="round" fill="none"/>
<path d="M799 1466h0M858 1447h0M919 1466h0M868 1586h0M783 1637h0M732 1670h0" stroke="#0000ff" stroke-width="13.4" stroke-linecap="round" fill="none"/>
<ellipse cx="1386" cy="1557.5" rx="329" ry="97.5" fill="none" stroke="#2e8b57" stroke-width="2.4" stroke-dasharray="13 7"/>
<g font-family="'Liberation Sans',sans-serif">
<circle cx="297.6" cy="1403.8" r="14.5" fill="#ff00ff"/>
<text x="327.9" y="1417.1" font-size="40" font-weight="bold" fill="#000" textLength="224" lengthAdjust="spacingAndGlyphs">Data Points</text>
<text x="257.6" y="1485.6" font-size="40" font-weight="bold" fill="#000" textLength="481" lengthAdjust="spacingAndGlyphs">SS: Sandstone Template</text>
<text x="258.8" y="1553.5" font-size="40" font-weight="bold" fill="#000" textLength="475" lengthAdjust="spacingAndGlyphs">LS: Limestone Template</text>
<text x="258.2" y="1622" font-size="40" font-weight="bold" fill="#000" textLength="479" lengthAdjust="spacingAndGlyphs">DOL: Dolomite Template</text>
<text x="1727" y="1547.8" font-size="40" font-weight="bold" fill="#000" textLength="107" lengthAdjust="spacingAndGlyphs">Shale</text>
<text x="1736" y="1594" font-size="40" font-weight="bold" fill="#000" textLength="104" lengthAdjust="spacingAndGlyphs">Trend</text>
<text x="259.5" y="1907.3" font-size="28" fill="#2a2a9a" textLength="909" lengthAdjust="spacingAndGlyphs">(SWS) Density Neutron(TNPH) overlay, Rhofluid = 1.0 (CP-1e 1989)</text>
<rect x="246.7" y="1372.5" width="1711.3" height="551.0" fill="none" stroke="#2a2a2a" stroke-width="2.4"/>
<text x="645.5" y="1959.5" font-size="25" fill="#222" textLength="726" lengthAdjust="spacingAndGlyphs">12006 points plotted out of 32809 (112 outliers, 20691 nulls)</text>
<rect x="56.2" y="1979" width="190.5" height="24.5" fill="#0000ff"/>
<rect x="246.4" y="1979" width="190.5" height="24.5" fill="#00ffff"/>
<rect x="436.6" y="1979" width="190.5" height="24.5" fill="#ff00ff"/>
<rect x="626.7" y="1979" width="190.5" height="24.5" fill="#008000"/>
<rect x="816.9" y="1979" width="190.5" height="24.5" fill="#800000"/>
<rect x="1007.1" y="1979" width="190.5" height="24.5" fill="#00ff00"/>
<rect x="1197.3" y="1979" width="190.5" height="24.5" fill="#000080"/>
<rect x="1387.5" y="1979" width="190.5" height="24.5" fill="#808000"/>
<rect x="1577.6" y="1979" width="190.5" height="24.5" fill="#800080"/>
<rect x="1767.8" y="1979" width="190.5" height="24.5" fill="#ff0000"/>
<rect x="56.2" y="1978.3" width="1901.8" height="25.2" fill="none" stroke="#222" stroke-width="1.4"/>
<line x1="246.4" y1="1978.5" x2="246.4" y2="2003.5" stroke="#333" stroke-width="1"/>
<line x1="436.6" y1="1978.5" x2="436.6" y2="2003.5" stroke="#333" stroke-width="1"/>
<line x1="626.7" y1="1978.5" x2="626.7" y2="2003.5" stroke="#333" stroke-width="1"/>
<line x1="816.9" y1="1978.5" x2="816.9" y2="2003.5" stroke="#333" stroke-width="1"/>
<line x1="1007.1" y1="1978.5" x2="1007.1" y2="2003.5" stroke="#333" stroke-width="1"/>
<line x1="1197.3" y1="1978.5" x2="1197.3" y2="2003.5" stroke="#333" stroke-width="1"/>
<line x1="1387.5" y1="1978.5" x2="1387.5" y2="2003.5" stroke="#333" stroke-width="1"/>
<line x1="1577.6" y1="1978.5" x2="1577.6" y2="2003.5" stroke="#333" stroke-width="1"/>
<line x1="1767.8" y1="1978.5" x2="1767.8" y2="2003.5" stroke="#333" stroke-width="1"/>
<rect x="56.2" y="2009" width="1901.8" height="75" fill="#fff"/>
<line x1="56.2" y1="2047.3" x2="1958.0" y2="2047.3" stroke="#c6c6c6" stroke-width="1.5"/>
<line x1="246.4" y1="2009" x2="246.4" y2="2084" stroke="#c6c6c6" stroke-width="1.5"/>
<line x1="436.6" y1="2009" x2="436.6" y2="2084" stroke="#c6c6c6" stroke-width="1.5"/>
<line x1="626.7" y1="2009" x2="626.7" y2="2084" stroke="#c6c6c6" stroke-width="1.5"/>
<line x1="816.9" y1="2009" x2="816.9" y2="2084" stroke="#c6c6c6" stroke-width="1.5"/>
<line x1="1007.1" y1="2009" x2="1007.1" y2="2084" stroke="#c6c6c6" stroke-width="1.5"/>
<line x1="1197.3" y1="2009" x2="1197.3" y2="2084" stroke="#c6c6c6" stroke-width="1.5"/>
<line x1="1387.5" y1="2009" x2="1387.5" y2="2084" stroke="#c6c6c6" stroke-width="1.5"/>
<line x1="1577.6" y1="2009" x2="1577.6" y2="2084" stroke="#c6c6c6" stroke-width="1.5"/>
<line x1="1767.8" y1="2009" x2="1767.8" y2="2084" stroke="#c6c6c6" stroke-width="1.5"/>
<text x="62" y="2037.5" font-size="26" fill="#c9c9c9" stroke="#c9c9c9" stroke-width="0.3">2000</text>
<text x="62" y="2074.5" font-size="26" fill="#c9c9c9" stroke="#c9c9c9" stroke-width="0.3">1000</text>
<rect x="208.3" y="2082.0" width="38.0" height="2.0" fill="url(#bar)" stroke="#060638" stroke-width="1.6"/>
<rect x="246.4" y="2071.5" width="38.0" height="12.5" fill="url(#bar)" stroke="#060638" stroke-width="1.6"/>
<rect x="284.4" y="2065.0" width="38.0" height="19.0" fill="url(#bar)" stroke="#060638" stroke-width="1.6"/>
<rect x="322.5" y="2063.2" width="38.0" height="20.8" fill="url(#bar)" stroke="#060638" stroke-width="1.6"/>
<rect x="360.5" y="2065.0" width="38.0" height="19.0" fill="url(#bar)" stroke="#060638" stroke-width="1.6"/>
<rect x="398.5" y="2047.6" width="38.0" height="36.4" fill="url(#bar)" stroke="#060638" stroke-width="1.6"/>
<rect x="436.6" y="2026.0" width="38.0" height="58.0" fill="url(#bar)" stroke="#060638" stroke-width="1.6"/>
<rect x="474.6" y="2023.4" width="38.0" height="60.6" fill="url(#bar)" stroke="#060638" stroke-width="1.6"/>
<rect x="512.6" y="2041.2" width="38.0" height="42.8" fill="url(#bar)" stroke="#060638" stroke-width="1.6"/>
<rect x="550.7" y="2050.0" width="38.0" height="34.0" fill="url(#bar)" stroke="#060638" stroke-width="1.6"/>
<rect x="588.7" y="2034.4" width="38.0" height="49.6" fill="url(#bar)" stroke="#060638" stroke-width="1.6"/>
<rect x="626.7" y="2024.2" width="38.0" height="59.8" fill="url(#bar)" stroke="#060638" stroke-width="1.6"/>
<rect x="664.8" y="2012.8" width="38.0" height="71.2" fill="url(#bar)" stroke="#060638" stroke-width="1.6"/>
<rect x="702.8" y="2010.9" width="38.0" height="73.1" fill="url(#bar)" stroke="#060638" stroke-width="1.6"/>
<rect x="740.8" y="2034.4" width="38.0" height="49.6" fill="url(#bar)" stroke="#060638" stroke-width="1.6"/>
<rect x="778.9" y="2074.2" width="38.0" height="9.8" fill="url(#bar)" stroke="#060638" stroke-width="1.6"/>
<rect x="816.9" y="2080.2" width="38.0" height="3.8" fill="url(#bar)" stroke="#060638" stroke-width="1.6"/>
<line x1="56.2" y1="2009" x2="1958.0" y2="2009" stroke="#9a9a9a" stroke-width="2"/>
<polyline points="56.2,2009 56.2,2084 1958.0,2084 1958.0,2009" fill="none" stroke="#333" stroke-width="2.2"/>
<line x1="56.2" y1="2084" x2="56.2" y2="2090" stroke="#333" stroke-width="2"/>
<text x="56.2" y="2115.6" font-size="26" fill="#222" stroke="#222" stroke-width="0.3" text-anchor="middle">0</text>
<line x1="246.4" y1="2084" x2="246.4" y2="2090" stroke="#333" stroke-width="2"/>
<text x="246.38" y="2115.6" font-size="26" fill="#222" stroke="#222" stroke-width="0.3" text-anchor="middle">15</text>
<line x1="436.6" y1="2084" x2="436.6" y2="2090" stroke="#333" stroke-width="2"/>
<text x="436.56" y="2115.6" font-size="26" fill="#222" stroke="#222" stroke-width="0.3" text-anchor="middle">30</text>
<line x1="626.7" y1="2084" x2="626.7" y2="2090" stroke="#333" stroke-width="2"/>
<text x="626.74" y="2115.6" font-size="26" fill="#222" stroke="#222" stroke-width="0.3" text-anchor="middle">45</text>
<line x1="816.9" y1="2084" x2="816.9" y2="2090" stroke="#333" stroke-width="2"/>
<text x="816.92" y="2115.6" font-size="26" fill="#222" stroke="#222" stroke-width="0.3" text-anchor="middle">60</text>
<line x1="1007.1" y1="2084" x2="1007.1" y2="2090" stroke="#333" stroke-width="2"/>
<text x="1007.1" y="2115.6" font-size="26" fill="#222" stroke="#222" stroke-width="0.3" text-anchor="middle">75</text>
<line x1="1197.3" y1="2084" x2="1197.3" y2="2090" stroke="#333" stroke-width="2"/>
<text x="1197.28" y="2115.6" font-size="26" fill="#222" stroke="#222" stroke-width="0.3" text-anchor="middle">90</text>
<line x1="1387.5" y1="2084" x2="1387.5" y2="2090" stroke="#333" stroke-width="2"/>
<text x="1387.46" y="2115.6" font-size="26" fill="#222" stroke="#222" stroke-width="0.3" text-anchor="middle">105</text>
<line x1="1577.6" y1="2084" x2="1577.6" y2="2090" stroke="#333" stroke-width="2"/>
<text x="1577.64" y="2115.6" font-size="26" fill="#222" stroke="#222" stroke-width="0.3" text-anchor="middle">120</text>
<line x1="1767.8" y1="2084" x2="1767.8" y2="2090" stroke="#333" stroke-width="2"/>
<text x="1767.82" y="2115.6" font-size="26" fill="#222" stroke="#222" stroke-width="0.3" text-anchor="middle">135</text>
<line x1="1958.0" y1="2084" x2="1958.0" y2="2090" stroke="#333" stroke-width="2"/>
<text x="1958" y="2115.6" font-size="26" fill="#222" stroke="#222" stroke-width="0.3" text-anchor="middle">150</text>
<text x="1002" y="2152" font-size="27" fill="#2a2a9a" stroke="#2a2a9a" stroke-width="0.3" text-anchor="middle" textLength="134" lengthAdjust="spacingAndGlyphs">GR (GAPI)</text>
</g></svg></body></html>
